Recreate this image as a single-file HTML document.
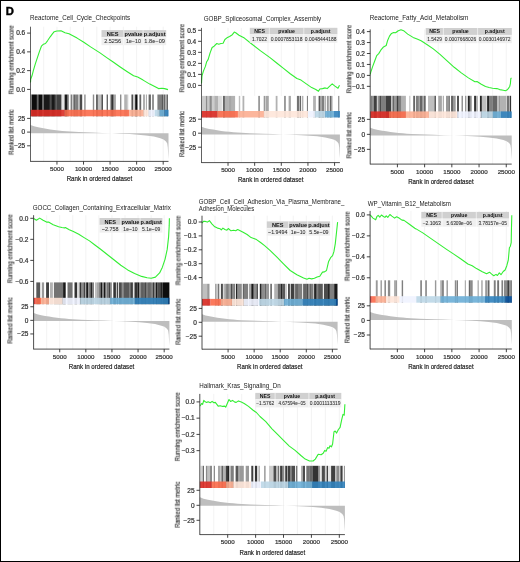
<!DOCTYPE html>
<html><head><meta charset="utf-8"><style>
html,body{margin:0;padding:0;background:#fff;}
svg{display:block;font-family:"Liberation Sans", sans-serif;}
text{will-change:transform;}
</style></head><body>
<svg width="520" height="562" viewBox="0 0 520 562">
<rect x="0" y="0" width="520" height="562" fill="#fff"/>
<g>
<text x="30.10" y="20.00" font-size="6.5" text-anchor="start" fill="#1a1a1a" textLength="100.00" lengthAdjust="spacingAndGlyphs">Reactome_Cell_Cycle_Checkpoints</text>
<line x1="43.68" y1="26.70" x2="43.68" y2="94.50" stroke="#ebebeb" stroke-width="0.6"/>
<line x1="43.68" y1="116.30" x2="43.68" y2="161.40" stroke="#ebebeb" stroke-width="0.6"/>
<line x1="56.96" y1="26.70" x2="56.96" y2="94.50" stroke="#ebebeb" stroke-width="0.6"/>
<line x1="56.96" y1="116.30" x2="56.96" y2="161.40" stroke="#ebebeb" stroke-width="0.6"/>
<line x1="70.24" y1="26.70" x2="70.24" y2="94.50" stroke="#ebebeb" stroke-width="0.6"/>
<line x1="70.24" y1="116.30" x2="70.24" y2="161.40" stroke="#ebebeb" stroke-width="0.6"/>
<line x1="83.52" y1="26.70" x2="83.52" y2="94.50" stroke="#ebebeb" stroke-width="0.6"/>
<line x1="83.52" y1="116.30" x2="83.52" y2="161.40" stroke="#ebebeb" stroke-width="0.6"/>
<line x1="96.79" y1="26.70" x2="96.79" y2="94.50" stroke="#ebebeb" stroke-width="0.6"/>
<line x1="96.79" y1="116.30" x2="96.79" y2="161.40" stroke="#ebebeb" stroke-width="0.6"/>
<line x1="110.07" y1="26.70" x2="110.07" y2="94.50" stroke="#ebebeb" stroke-width="0.6"/>
<line x1="110.07" y1="116.30" x2="110.07" y2="161.40" stroke="#ebebeb" stroke-width="0.6"/>
<line x1="123.35" y1="26.70" x2="123.35" y2="94.50" stroke="#ebebeb" stroke-width="0.6"/>
<line x1="123.35" y1="116.30" x2="123.35" y2="161.40" stroke="#ebebeb" stroke-width="0.6"/>
<line x1="136.63" y1="26.70" x2="136.63" y2="94.50" stroke="#ebebeb" stroke-width="0.6"/>
<line x1="136.63" y1="116.30" x2="136.63" y2="161.40" stroke="#ebebeb" stroke-width="0.6"/>
<line x1="149.91" y1="26.70" x2="149.91" y2="94.50" stroke="#ebebeb" stroke-width="0.6"/>
<line x1="149.91" y1="116.30" x2="149.91" y2="161.40" stroke="#ebebeb" stroke-width="0.6"/>
<line x1="163.19" y1="26.70" x2="163.19" y2="94.50" stroke="#ebebeb" stroke-width="0.6"/>
<line x1="163.19" y1="116.30" x2="163.19" y2="161.40" stroke="#ebebeb" stroke-width="0.6"/>
<line x1="27.10" y1="89.40" x2="30.40" y2="89.40" stroke="#222" stroke-width="0.85"/>
<text x="25.20" y="91.70" font-size="6.5" text-anchor="end" fill="#333" stroke="#333" stroke-width="0.22">0.0</text>
<line x1="27.10" y1="70.63" x2="30.40" y2="70.63" stroke="#222" stroke-width="0.85"/>
<text x="25.20" y="72.93" font-size="6.5" text-anchor="end" fill="#333" stroke="#333" stroke-width="0.22">0.2</text>
<line x1="27.10" y1="51.87" x2="30.40" y2="51.87" stroke="#222" stroke-width="0.85"/>
<text x="25.20" y="54.17" font-size="6.5" text-anchor="end" fill="#333" stroke="#333" stroke-width="0.22">0.4</text>
<line x1="27.10" y1="33.10" x2="30.40" y2="33.10" stroke="#222" stroke-width="0.85"/>
<text x="25.20" y="35.40" font-size="6.5" text-anchor="end" fill="#333" stroke="#333" stroke-width="0.22">0.6</text>
<polyline points="30.50,82.50 30.70,79.20 32.00,75.80 33.40,70.40 35.40,63.70 37.40,57.60 39.40,51.60 41.40,46.20 43.50,44.20 45.50,43.50 47.50,40.80 50.20,36.80 52.20,34.10 54.20,31.70 56.90,31.00 61.00,30.70 65.00,32.70 69.00,33.80 77.10,38.10 83.80,42.20 90.60,46.90 100.00,52.90 106.70,57.60 113.50,62.30 120.20,67.00 126.90,71.50 133.60,75.80 137.70,77.10 143.10,80.10 149.80,84.10 155.20,86.80 158.50,88.60 161.90,88.30 164.60,88.60 168.00,89.60" fill="none" stroke="#33ee33" stroke-width="1.1" stroke-linejoin="round"/>
<rect x="101.50" y="30.10" width="64.70" height="7.30" fill="#d0d0d0"/>
<rect x="101.50" y="37.40" width="64.70" height="7.80" fill="#efefef"/>
<line x1="123.80" y1="30.10" x2="123.80" y2="45.20" stroke="#fff" stroke-width="0.6"/>
<line x1="143.10" y1="30.10" x2="143.10" y2="45.20" stroke="#fff" stroke-width="0.6"/>
<line x1="101.50" y1="37.40" x2="166.20" y2="37.40" stroke="#fff" stroke-width="0.4"/>
<text x="112.65" y="35.80" font-size="5.7" text-anchor="middle" font-weight="bold" fill="#111">NES</text>
<text x="112.65" y="43.35" font-size="5.7" text-anchor="middle" fill="#2a2a2a" textLength="17.00" lengthAdjust="spacingAndGlyphs" stroke="#333" stroke-width="0.06">2.5256</text>
<text x="133.45" y="35.80" font-size="5.7" text-anchor="middle" font-weight="bold" fill="#111">pvalue</text>
<text x="133.45" y="43.35" font-size="5.7" text-anchor="middle" fill="#2a2a2a" textLength="15.00" lengthAdjust="spacingAndGlyphs" stroke="#333" stroke-width="0.06">1e−10</text>
<text x="154.65" y="35.80" font-size="5.7" text-anchor="middle" font-weight="bold" fill="#111">p.adjust</text>
<text x="154.65" y="43.35" font-size="5.7" text-anchor="middle" fill="#2a2a2a" textLength="20.60" lengthAdjust="spacingAndGlyphs" stroke="#333" stroke-width="0.06">1.8e−09</text>
<rect x="30.90" y="94.50" width="0.90" height="21.80" fill="#000" fill-opacity="0.5"/>
<rect x="31.80" y="94.50" width="5.10" height="21.80" fill="#000" fill-opacity="0.95"/>
<rect x="36.90" y="94.50" width="1.40" height="21.80" fill="#000" fill-opacity="0.6"/>
<rect x="38.30" y="94.50" width="3.70" height="21.80" fill="#000" fill-opacity="0.95"/>
<rect x="42.00" y="94.50" width="1.80" height="21.80" fill="#000" fill-opacity="0.6"/>
<rect x="43.80" y="94.50" width="6.10" height="21.80" fill="#000" fill-opacity="0.9"/>
<rect x="49.90" y="94.50" width="1.30" height="21.80" fill="#000" fill-opacity="0.7"/>
<rect x="51.20" y="94.50" width="3.70" height="21.80" fill="#000" fill-opacity="0.9"/>
<rect x="54.90" y="94.50" width="1.90" height="21.80" fill="#000" fill-opacity="0.7"/>
<rect x="56.80" y="94.50" width="4.60" height="21.80" fill="#000" fill-opacity="0.75"/>
<rect x="61.40" y="94.50" width="3.20" height="21.80" fill="#000" fill-opacity="0.1"/>
<rect x="64.60" y="94.50" width="2.80" height="21.80" fill="#000" fill-opacity="0.9"/>
<rect x="67.40" y="94.50" width="1.40" height="21.80" fill="#000" fill-opacity="0.5"/>
<rect x="70.60" y="94.50" width="1.40" height="21.80" fill="#000" fill-opacity="0.5"/>
<rect x="72.00" y="94.50" width="1.40" height="21.80" fill="#000" fill-opacity="0.2"/>
<rect x="73.40" y="94.50" width="1.80" height="21.80" fill="#000" fill-opacity="0.6"/>
<rect x="75.20" y="94.50" width="2.80" height="21.80" fill="#000" fill-opacity="0.5"/>
<rect x="78.00" y="94.50" width="1.80" height="21.80" fill="#000" fill-opacity="0.25"/>
<rect x="79.80" y="94.50" width="2.40" height="21.80" fill="#000" fill-opacity="0.7"/>
<rect x="84.00" y="94.50" width="1.80" height="21.80" fill="#000" fill-opacity="0.35"/>
<rect x="92.80" y="94.50" width="1.40" height="21.80" fill="#000" fill-opacity="0.45"/>
<rect x="96.00" y="94.50" width="1.90" height="21.80" fill="#000" fill-opacity="0.6"/>
<rect x="97.90" y="94.50" width="3.60" height="21.80" fill="#000" fill-opacity="0.25"/>
<rect x="101.50" y="94.50" width="1.40" height="21.80" fill="#000" fill-opacity="0.75"/>
<rect x="106.60" y="94.50" width="1.40" height="21.80" fill="#000" fill-opacity="0.6"/>
<rect x="109.90" y="94.50" width="1.30" height="21.80" fill="#000" fill-opacity="0.35"/>
<rect x="111.20" y="94.50" width="2.30" height="21.80" fill="#000" fill-opacity="0.8"/>
<rect x="113.50" y="94.50" width="2.40" height="21.80" fill="#000" fill-opacity="0.35"/>
<rect x="120.00" y="94.50" width="1.40" height="21.80" fill="#000" fill-opacity="0.45"/>
<rect x="124.20" y="94.50" width="1.80" height="21.80" fill="#000" fill-opacity="0.3"/>
<rect x="126.00" y="94.50" width="0.90" height="21.80" fill="#000" fill-opacity="0.3"/>
<rect x="126.90" y="94.50" width="1.40" height="21.80" fill="#000" fill-opacity="0.2"/>
<rect x="131.50" y="94.50" width="1.40" height="21.80" fill="#000" fill-opacity="0.75"/>
<rect x="132.90" y="94.50" width="2.30" height="21.80" fill="#000" fill-opacity="0.2"/>
<rect x="135.20" y="94.50" width="2.30" height="21.80" fill="#000" fill-opacity="0.95"/>
<rect x="139.40" y="94.50" width="1.80" height="21.80" fill="#000" fill-opacity="0.6"/>
<rect x="143.10" y="94.50" width="1.80" height="21.80" fill="#000" fill-opacity="0.35"/>
<rect x="145.90" y="94.50" width="0.90" height="21.80" fill="#000" fill-opacity="0.4"/>
<rect x="148.60" y="94.50" width="2.30" height="21.80" fill="#000" fill-opacity="0.6"/>
<rect x="152.30" y="94.50" width="1.40" height="21.80" fill="#000" fill-opacity="0.6"/>
<rect x="157.40" y="94.50" width="4.10" height="21.80" fill="#000" fill-opacity="0.5"/>
<rect x="161.50" y="94.50" width="1.40" height="21.80" fill="#000" fill-opacity="0.7"/>
<rect x="162.90" y="94.50" width="1.00" height="21.80" fill="#000" fill-opacity="0.4"/>
<rect x="163.90" y="94.50" width="1.30" height="21.80" fill="#000" fill-opacity="0.6"/>
<rect x="165.20" y="94.50" width="1.40" height="21.80" fill="#000" fill-opacity="0.3"/>
<rect x="166.60" y="94.50" width="1.40" height="21.80" fill="#000" fill-opacity="0.6"/>
<rect x="30.40" y="109.80" width="34.35" height="6.50" fill="#DE2D26" fill-opacity="0.9"/>
<rect x="64.70" y="109.80" width="64.45" height="6.50" fill="#FB6A4A" fill-opacity="0.9"/>
<rect x="129.10" y="109.80" width="14.55" height="6.50" fill="#FCAE91" fill-opacity="0.9"/>
<rect x="143.60" y="109.80" width="4.95" height="6.50" fill="#FEE5D9" fill-opacity="0.9"/>
<rect x="148.50" y="109.80" width="6.25" height="6.50" fill="#EFF3FF" fill-opacity="0.9"/>
<rect x="154.70" y="109.80" width="4.95" height="6.50" fill="#BDD7E7" fill-opacity="0.9"/>
<rect x="159.60" y="109.80" width="4.85" height="6.50" fill="#6BAED6" fill-opacity="0.9"/>
<rect x="164.40" y="109.80" width="4.15" height="6.50" fill="#3182BD" fill-opacity="0.9"/>
<line x1="27.10" y1="118.40" x2="30.40" y2="118.40" stroke="#222" stroke-width="0.85"/>
<text x="25.20" y="120.70" font-size="6.5" text-anchor="end" fill="#333" stroke="#333" stroke-width="0.22">25</text>
<line x1="27.10" y1="132.10" x2="30.40" y2="132.10" stroke="#222" stroke-width="0.85"/>
<text x="25.20" y="134.40" font-size="6.5" text-anchor="end" fill="#333" stroke="#333" stroke-width="0.22">0</text>
<line x1="27.10" y1="145.80" x2="30.40" y2="145.80" stroke="#222" stroke-width="0.85"/>
<text x="25.20" y="148.10" font-size="6.5" text-anchor="end" fill="#333" stroke="#333" stroke-width="0.22">−25</text>
<path d="M30.40,133.30 L30.40,124.90 L31.23,125.20 L33.99,126.30 L38.13,127.30 L42.14,128.10 L46.14,128.80 L50.15,129.50 L54.15,130.10 L58.30,130.50 L62.30,130.90 L66.31,131.30 L70.45,131.60 L78.73,132.00 L92.54,132.50 L102.21,132.90 L111.88,133.30 L120.16,133.70 L129.83,134.10 L138.12,134.70 L145.85,135.40 L153.86,136.60 L160.35,138.30 L163.53,139.50 L166.01,141.50 L167.26,143.50 L167.81,147.60 L168.22,155.30 L168.50,159.30 L168.50,133.30 Z" fill="#bebebe"/>
<line x1="30.40" y1="26.70" x2="30.40" y2="161.70" stroke="#222" stroke-width="0.8"/>
<line x1="30.40" y1="161.40" x2="168.50" y2="161.40" stroke="#222" stroke-width="0.8"/>
<line x1="56.96" y1="161.40" x2="56.96" y2="164.60" stroke="#222" stroke-width="0.85"/>
<text x="56.96" y="170.80" font-size="6.2" text-anchor="middle" fill="#333" stroke="#333" stroke-width="0.22">5000</text>
<line x1="83.52" y1="161.40" x2="83.52" y2="164.60" stroke="#222" stroke-width="0.85"/>
<text x="83.52" y="170.80" font-size="6.2" text-anchor="middle" fill="#333" stroke="#333" stroke-width="0.22">10000</text>
<line x1="110.07" y1="161.40" x2="110.07" y2="164.60" stroke="#222" stroke-width="0.85"/>
<text x="110.07" y="170.80" font-size="6.2" text-anchor="middle" fill="#333" stroke="#333" stroke-width="0.22">15000</text>
<line x1="136.63" y1="161.40" x2="136.63" y2="164.60" stroke="#222" stroke-width="0.85"/>
<text x="136.63" y="170.80" font-size="6.2" text-anchor="middle" fill="#333" stroke="#333" stroke-width="0.22">20000</text>
<line x1="163.19" y1="161.40" x2="163.19" y2="164.60" stroke="#222" stroke-width="0.85"/>
<text x="163.19" y="170.80" font-size="6.2" text-anchor="middle" fill="#333" stroke="#333" stroke-width="0.22">25000</text>
<text x="99.45" y="180.80" font-size="8.0" text-anchor="middle" fill="#111" textLength="65.50" lengthAdjust="spacingAndGlyphs" stroke="#333" stroke-width="0.22">Rank in ordered dataset</text>
<text transform="translate(11.60,59.80) rotate(-90)" font-size="8.0" fill="#1a1a1a" stroke="#222" stroke-width="0.15" text-anchor="middle" textLength="69.0" lengthAdjust="spacingAndGlyphs" y="2">Running enrichment score</text>
<text transform="translate(11.60,132.10) rotate(-90)" font-size="8.0" fill="#1a1a1a" stroke="#222" stroke-width="0.15" text-anchor="middle" textLength="45.4" lengthAdjust="spacingAndGlyphs" y="2">Ranked list metric</text>
</g>
<g>
<text x="203.70" y="20.60" font-size="6.5" text-anchor="start" fill="#1a1a1a" textLength="117.50" lengthAdjust="spacingAndGlyphs">GOBP_Spliceosomal_Complex_Assembly</text>
<line x1="214.72" y1="27.90" x2="214.72" y2="95.90" stroke="#ebebeb" stroke-width="0.6"/>
<line x1="214.72" y1="117.50" x2="214.72" y2="162.60" stroke="#ebebeb" stroke-width="0.6"/>
<line x1="228.03" y1="27.90" x2="228.03" y2="95.90" stroke="#ebebeb" stroke-width="0.6"/>
<line x1="228.03" y1="117.50" x2="228.03" y2="162.60" stroke="#ebebeb" stroke-width="0.6"/>
<line x1="241.35" y1="27.90" x2="241.35" y2="95.90" stroke="#ebebeb" stroke-width="0.6"/>
<line x1="241.35" y1="117.50" x2="241.35" y2="162.60" stroke="#ebebeb" stroke-width="0.6"/>
<line x1="254.67" y1="27.90" x2="254.67" y2="95.90" stroke="#ebebeb" stroke-width="0.6"/>
<line x1="254.67" y1="117.50" x2="254.67" y2="162.60" stroke="#ebebeb" stroke-width="0.6"/>
<line x1="267.99" y1="27.90" x2="267.99" y2="95.90" stroke="#ebebeb" stroke-width="0.6"/>
<line x1="267.99" y1="117.50" x2="267.99" y2="162.60" stroke="#ebebeb" stroke-width="0.6"/>
<line x1="281.30" y1="27.90" x2="281.30" y2="95.90" stroke="#ebebeb" stroke-width="0.6"/>
<line x1="281.30" y1="117.50" x2="281.30" y2="162.60" stroke="#ebebeb" stroke-width="0.6"/>
<line x1="294.62" y1="27.90" x2="294.62" y2="95.90" stroke="#ebebeb" stroke-width="0.6"/>
<line x1="294.62" y1="117.50" x2="294.62" y2="162.60" stroke="#ebebeb" stroke-width="0.6"/>
<line x1="307.94" y1="27.90" x2="307.94" y2="95.90" stroke="#ebebeb" stroke-width="0.6"/>
<line x1="307.94" y1="117.50" x2="307.94" y2="162.60" stroke="#ebebeb" stroke-width="0.6"/>
<line x1="321.26" y1="27.90" x2="321.26" y2="95.90" stroke="#ebebeb" stroke-width="0.6"/>
<line x1="321.26" y1="117.50" x2="321.26" y2="162.60" stroke="#ebebeb" stroke-width="0.6"/>
<line x1="334.57" y1="27.90" x2="334.57" y2="95.90" stroke="#ebebeb" stroke-width="0.6"/>
<line x1="334.57" y1="117.50" x2="334.57" y2="162.60" stroke="#ebebeb" stroke-width="0.6"/>
<line x1="198.10" y1="85.40" x2="201.40" y2="85.40" stroke="#222" stroke-width="0.85"/>
<text x="196.20" y="87.70" font-size="6.5" text-anchor="end" fill="#333" stroke="#333" stroke-width="0.22">0.0</text>
<line x1="198.10" y1="74.38" x2="201.40" y2="74.38" stroke="#222" stroke-width="0.85"/>
<text x="196.20" y="76.68" font-size="6.5" text-anchor="end" fill="#333" stroke="#333" stroke-width="0.22">0.1</text>
<line x1="198.10" y1="63.36" x2="201.40" y2="63.36" stroke="#222" stroke-width="0.85"/>
<text x="196.20" y="65.66" font-size="6.5" text-anchor="end" fill="#333" stroke="#333" stroke-width="0.22">0.2</text>
<line x1="198.10" y1="52.34" x2="201.40" y2="52.34" stroke="#222" stroke-width="0.85"/>
<text x="196.20" y="54.64" font-size="6.5" text-anchor="end" fill="#333" stroke="#333" stroke-width="0.22">0.3</text>
<line x1="198.10" y1="41.32" x2="201.40" y2="41.32" stroke="#222" stroke-width="0.85"/>
<text x="196.20" y="43.62" font-size="6.5" text-anchor="end" fill="#333" stroke="#333" stroke-width="0.22">0.4</text>
<line x1="198.10" y1="30.30" x2="201.40" y2="30.30" stroke="#222" stroke-width="0.85"/>
<text x="196.20" y="32.60" font-size="6.5" text-anchor="end" fill="#333" stroke="#333" stroke-width="0.22">0.5</text>
<polyline points="201.50,83.50 201.60,81.20 202.00,75.80 203.40,71.10 205.40,66.40 206.70,61.70 208.10,59.60 210.10,52.90 212.10,47.50 214.10,46.20 216.80,43.50 218.80,44.20 220.90,43.50 223.10,43.20 224.90,39.50 226.90,37.80 229.60,36.50 232.30,34.70 234.30,32.10 235.70,32.70 239.00,35.20 244.40,38.10 251.10,43.50 260.60,50.90 270.00,57.60 276.70,63.00 283.50,68.40 290.20,73.80 296.90,78.50 301.00,80.10 306.30,83.90 311.70,87.60 315.80,89.50 318.50,91.30 319.80,89.00 322.50,88.60 325.20,87.90 327.20,88.60 329.20,86.60 332.20,83.90 334.60,85.90 338.00,88.20 339.50,85.20" fill="none" stroke="#33ee33" stroke-width="1.1" stroke-linejoin="round"/>
<rect x="249.80" y="27.80" width="87.60" height="6.80" fill="#d0d0d0"/>
<rect x="249.80" y="34.60" width="87.60" height="8.20" fill="#efefef"/>
<line x1="269.30" y1="27.80" x2="269.30" y2="42.80" stroke="#fff" stroke-width="0.6"/>
<line x1="303.80" y1="27.80" x2="303.80" y2="42.80" stroke="#fff" stroke-width="0.6"/>
<line x1="249.80" y1="34.60" x2="337.40" y2="34.60" stroke="#fff" stroke-width="0.4"/>
<text x="259.55" y="33.07" font-size="5.2" text-anchor="middle" font-weight="bold" fill="#111">NES</text>
<text x="259.55" y="40.54" font-size="5.1" text-anchor="middle" fill="#2a2a2a" textLength="15.20" lengthAdjust="spacingAndGlyphs" stroke="#333" stroke-width="0.06">1.7022</text>
<text x="286.55" y="33.07" font-size="5.2" text-anchor="middle" font-weight="bold" fill="#111">pvalue</text>
<text x="286.55" y="40.54" font-size="5.1" text-anchor="middle" fill="#2a2a2a" textLength="31.80" lengthAdjust="spacingAndGlyphs" stroke="#333" stroke-width="0.06">0.0007853118</text>
<text x="320.60" y="33.07" font-size="5.2" text-anchor="middle" font-weight="bold" fill="#111">p.adjust</text>
<text x="320.60" y="40.54" font-size="5.1" text-anchor="middle" fill="#2a2a2a" textLength="31.60" lengthAdjust="spacingAndGlyphs" stroke="#333" stroke-width="0.06">0.0048444188</text>
<rect x="202.00" y="95.90" width="3.90" height="21.60" fill="#000" fill-opacity="0.2"/>
<rect x="205.90" y="95.90" width="1.30" height="21.60" fill="#000" fill-opacity="0.45"/>
<rect x="207.20" y="95.90" width="2.30" height="21.60" fill="#000" fill-opacity="0.22"/>
<rect x="209.50" y="95.90" width="2.30" height="21.60" fill="#000" fill-opacity="0.45"/>
<rect x="211.80" y="95.90" width="2.60" height="21.60" fill="#000" fill-opacity="0.2"/>
<rect x="214.40" y="95.90" width="3.60" height="21.60" fill="#000" fill-opacity="0.3"/>
<rect x="218.00" y="95.90" width="3.90" height="21.60" fill="#000" fill-opacity="0.15"/>
<rect x="222.90" y="95.90" width="2.00" height="21.60" fill="#000" fill-opacity="0.6"/>
<rect x="224.90" y="95.90" width="3.60" height="21.60" fill="#000" fill-opacity="0.3"/>
<rect x="228.50" y="95.90" width="3.20" height="21.60" fill="#000" fill-opacity="0.35"/>
<rect x="231.70" y="95.90" width="3.40" height="21.60" fill="#000" fill-opacity="0.3"/>
<rect x="238.80" y="95.90" width="1.40" height="21.60" fill="#000" fill-opacity="0.25"/>
<rect x="242.50" y="95.90" width="1.80" height="21.60" fill="#000" fill-opacity="0.3"/>
<rect x="258.20" y="95.90" width="1.80" height="21.60" fill="#000" fill-opacity="0.4"/>
<rect x="263.70" y="95.90" width="1.40" height="21.60" fill="#000" fill-opacity="0.4"/>
<rect x="265.50" y="95.90" width="3.30" height="21.60" fill="#000" fill-opacity="0.35"/>
<rect x="275.70" y="95.90" width="1.80" height="21.60" fill="#000" fill-opacity="0.3"/>
<rect x="284.00" y="95.90" width="1.90" height="21.60" fill="#000" fill-opacity="0.4"/>
<rect x="288.60" y="95.90" width="2.30" height="21.60" fill="#000" fill-opacity="0.35"/>
<rect x="296.90" y="95.90" width="2.30" height="21.60" fill="#000" fill-opacity="0.55"/>
<rect x="299.70" y="95.90" width="1.40" height="21.60" fill="#000" fill-opacity="0.6"/>
<rect x="302.00" y="95.90" width="1.40" height="21.60" fill="#000" fill-opacity="0.3"/>
<rect x="306.90" y="95.90" width="1.10" height="21.60" fill="#000" fill-opacity="0.5"/>
<rect x="313.10" y="95.90" width="2.80" height="21.60" fill="#000" fill-opacity="0.3"/>
<rect x="318.60" y="95.90" width="1.60" height="21.60" fill="#000" fill-opacity="0.65"/>
<rect x="320.20" y="95.90" width="1.70" height="21.60" fill="#000" fill-opacity="0.35"/>
<rect x="321.90" y="95.90" width="2.30" height="21.60" fill="#000" fill-opacity="0.5"/>
<rect x="324.60" y="95.90" width="1.40" height="21.60" fill="#000" fill-opacity="0.3"/>
<rect x="326.90" y="95.90" width="1.90" height="21.60" fill="#000" fill-opacity="0.4"/>
<rect x="329.70" y="95.90" width="1.80" height="21.60" fill="#000" fill-opacity="0.6"/>
<rect x="331.50" y="95.90" width="1.40" height="21.60" fill="#000" fill-opacity="0.2"/>
<rect x="338.00" y="95.90" width="1.40" height="21.60" fill="#000" fill-opacity="0.4"/>
<rect x="201.40" y="111.00" width="16.15" height="6.50" fill="#DE2D26" fill-opacity="0.9"/>
<rect x="217.50" y="111.00" width="20.45" height="6.50" fill="#FB6A4A" fill-opacity="0.9"/>
<rect x="237.90" y="111.00" width="26.05" height="6.50" fill="#FCAE91" fill-opacity="0.9"/>
<rect x="263.90" y="111.00" width="44.15" height="6.50" fill="#FEE5D9" fill-opacity="0.9"/>
<rect x="308.00" y="111.00" width="6.95" height="6.50" fill="#EFF3FF" fill-opacity="0.9"/>
<rect x="314.90" y="111.00" width="10.25" height="6.50" fill="#BDD7E7" fill-opacity="0.9"/>
<rect x="325.10" y="111.00" width="8.85" height="6.50" fill="#6BAED6" fill-opacity="0.9"/>
<rect x="333.90" y="111.00" width="6.05" height="6.50" fill="#3182BD" fill-opacity="0.9"/>
<line x1="198.10" y1="119.20" x2="201.40" y2="119.20" stroke="#222" stroke-width="0.85"/>
<text x="196.20" y="121.50" font-size="6.5" text-anchor="end" fill="#333" stroke="#333" stroke-width="0.22">25</text>
<line x1="198.10" y1="133.20" x2="201.40" y2="133.20" stroke="#222" stroke-width="0.85"/>
<text x="196.20" y="135.50" font-size="6.5" text-anchor="end" fill="#333" stroke="#333" stroke-width="0.22">0</text>
<line x1="198.10" y1="147.20" x2="201.40" y2="147.20" stroke="#222" stroke-width="0.85"/>
<text x="196.20" y="149.50" font-size="6.5" text-anchor="end" fill="#333" stroke="#333" stroke-width="0.22">−25</text>
<path d="M201.40,134.40 L201.40,126.67 L202.23,126.95 L205.00,127.96 L209.16,128.88 L213.17,129.62 L217.19,130.26 L221.21,130.90 L225.22,131.46 L229.38,131.82 L233.39,132.19 L237.41,132.56 L241.56,132.84 L249.88,133.20 L263.73,133.66 L273.42,134.03 L283.12,134.40 L291.43,134.77 L301.12,135.14 L309.43,135.69 L317.19,136.33 L325.22,137.44 L331.73,139.00 L334.91,140.10 L337.41,141.94 L338.65,143.78 L339.21,147.56 L339.62,154.64 L339.90,158.32 L339.90,134.40 Z" fill="#bebebe"/>
<line x1="201.40" y1="27.90" x2="201.40" y2="162.90" stroke="#222" stroke-width="0.8"/>
<line x1="201.40" y1="162.60" x2="339.90" y2="162.60" stroke="#222" stroke-width="0.8"/>
<line x1="228.03" y1="162.60" x2="228.03" y2="165.80" stroke="#222" stroke-width="0.85"/>
<text x="228.03" y="172.30" font-size="6.2" text-anchor="middle" fill="#333" stroke="#333" stroke-width="0.22">5000</text>
<line x1="254.67" y1="162.60" x2="254.67" y2="165.80" stroke="#222" stroke-width="0.85"/>
<text x="254.67" y="172.30" font-size="6.2" text-anchor="middle" fill="#333" stroke="#333" stroke-width="0.22">10000</text>
<line x1="281.30" y1="162.60" x2="281.30" y2="165.80" stroke="#222" stroke-width="0.85"/>
<text x="281.30" y="172.30" font-size="6.2" text-anchor="middle" fill="#333" stroke="#333" stroke-width="0.22">15000</text>
<line x1="307.94" y1="162.60" x2="307.94" y2="165.80" stroke="#222" stroke-width="0.85"/>
<text x="307.94" y="172.30" font-size="6.2" text-anchor="middle" fill="#333" stroke="#333" stroke-width="0.22">20000</text>
<line x1="334.57" y1="162.60" x2="334.57" y2="165.80" stroke="#222" stroke-width="0.85"/>
<text x="334.57" y="172.30" font-size="6.2" text-anchor="middle" fill="#333" stroke="#333" stroke-width="0.22">25000</text>
<text x="270.65" y="182.40" font-size="8.0" text-anchor="middle" fill="#111" textLength="65.50" lengthAdjust="spacingAndGlyphs" stroke="#333" stroke-width="0.22">Rank in ordered dataset</text>
<text transform="translate(182.30,58.20) rotate(-90)" font-size="8.0" fill="#1a1a1a" stroke="#222" stroke-width="0.15" text-anchor="middle" textLength="68.3" lengthAdjust="spacingAndGlyphs" y="2">Running enrichment score</text>
<text transform="translate(182.30,134.00) rotate(-90)" font-size="8.0" fill="#1a1a1a" stroke="#222" stroke-width="0.15" text-anchor="middle" textLength="46.0" lengthAdjust="spacingAndGlyphs" y="2">Ranked list metric</text>
</g>
<g>
<text x="369.70" y="20.00" font-size="6.5" text-anchor="start" fill="#1a1a1a" textLength="98.70" lengthAdjust="spacingAndGlyphs">Reactome_Fatty_Acid_Metabolism</text>
<line x1="383.81" y1="29.40" x2="383.81" y2="95.80" stroke="#ebebeb" stroke-width="0.6"/>
<line x1="383.81" y1="117.90" x2="383.81" y2="164.10" stroke="#ebebeb" stroke-width="0.6"/>
<line x1="397.41" y1="29.40" x2="397.41" y2="95.80" stroke="#ebebeb" stroke-width="0.6"/>
<line x1="397.41" y1="117.90" x2="397.41" y2="164.10" stroke="#ebebeb" stroke-width="0.6"/>
<line x1="411.02" y1="29.40" x2="411.02" y2="95.80" stroke="#ebebeb" stroke-width="0.6"/>
<line x1="411.02" y1="117.90" x2="411.02" y2="164.10" stroke="#ebebeb" stroke-width="0.6"/>
<line x1="424.62" y1="29.40" x2="424.62" y2="95.80" stroke="#ebebeb" stroke-width="0.6"/>
<line x1="424.62" y1="117.90" x2="424.62" y2="164.10" stroke="#ebebeb" stroke-width="0.6"/>
<line x1="438.23" y1="29.40" x2="438.23" y2="95.80" stroke="#ebebeb" stroke-width="0.6"/>
<line x1="438.23" y1="117.90" x2="438.23" y2="164.10" stroke="#ebebeb" stroke-width="0.6"/>
<line x1="451.83" y1="29.40" x2="451.83" y2="95.80" stroke="#ebebeb" stroke-width="0.6"/>
<line x1="451.83" y1="117.90" x2="451.83" y2="164.10" stroke="#ebebeb" stroke-width="0.6"/>
<line x1="465.44" y1="29.40" x2="465.44" y2="95.80" stroke="#ebebeb" stroke-width="0.6"/>
<line x1="465.44" y1="117.90" x2="465.44" y2="164.10" stroke="#ebebeb" stroke-width="0.6"/>
<line x1="479.05" y1="29.40" x2="479.05" y2="95.80" stroke="#ebebeb" stroke-width="0.6"/>
<line x1="479.05" y1="117.90" x2="479.05" y2="164.10" stroke="#ebebeb" stroke-width="0.6"/>
<line x1="492.65" y1="29.40" x2="492.65" y2="95.80" stroke="#ebebeb" stroke-width="0.6"/>
<line x1="492.65" y1="117.90" x2="492.65" y2="164.10" stroke="#ebebeb" stroke-width="0.6"/>
<line x1="506.26" y1="29.40" x2="506.26" y2="95.80" stroke="#ebebeb" stroke-width="0.6"/>
<line x1="506.26" y1="117.90" x2="506.26" y2="164.10" stroke="#ebebeb" stroke-width="0.6"/>
<line x1="366.90" y1="86.35" x2="370.20" y2="86.35" stroke="#222" stroke-width="0.85"/>
<text x="365.00" y="88.65" font-size="6.5" text-anchor="end" fill="#333" stroke="#333" stroke-width="0.22">−0.1</text>
<line x1="366.90" y1="75.40" x2="370.20" y2="75.40" stroke="#222" stroke-width="0.85"/>
<text x="365.00" y="77.70" font-size="6.5" text-anchor="end" fill="#333" stroke="#333" stroke-width="0.22">0.0</text>
<line x1="366.90" y1="64.45" x2="370.20" y2="64.45" stroke="#222" stroke-width="0.85"/>
<text x="365.00" y="66.75" font-size="6.5" text-anchor="end" fill="#333" stroke="#333" stroke-width="0.22">0.1</text>
<line x1="366.90" y1="53.50" x2="370.20" y2="53.50" stroke="#222" stroke-width="0.85"/>
<text x="365.00" y="55.80" font-size="6.5" text-anchor="end" fill="#333" stroke="#333" stroke-width="0.22">0.2</text>
<line x1="366.90" y1="42.55" x2="370.20" y2="42.55" stroke="#222" stroke-width="0.85"/>
<text x="365.00" y="44.85" font-size="6.5" text-anchor="end" fill="#333" stroke="#333" stroke-width="0.22">0.3</text>
<line x1="366.90" y1="31.60" x2="370.20" y2="31.60" stroke="#222" stroke-width="0.85"/>
<text x="365.00" y="33.90" font-size="6.5" text-anchor="end" fill="#333" stroke="#333" stroke-width="0.22">0.4</text>
<polyline points="370.30,74.50 370.70,72.40 372.70,66.40 374.70,61.00 376.70,55.60 378.70,53.60 380.80,50.20 383.50,46.90 386.20,45.50 387.50,40.80 389.50,36.10 391.50,33.40 393.60,32.50 395.60,32.70 398.30,30.70 401.00,29.80 403.60,30.70 407.70,34.10 413.10,37.40 417.10,39.10 421.10,40.80 426.50,44.20 433.30,48.90 440.00,54.40 447.10,60.90 454.20,67.30 461.30,72.90 468.40,77.90 474.90,81.80 477.00,81.50 481.30,84.30 485.50,86.50 489.10,87.50 492.60,88.30 496.90,88.60 499.70,89.60 503.30,90.30 505.40,90.70 506.90,90.00 508.30,88.60 509.70,86.50 510.40,83.60 510.80,78.60 511.50,77.90" fill="none" stroke="#33ee33" stroke-width="1.1" stroke-linejoin="round"/>
<rect x="425.70" y="28.00" width="86.10" height="7.20" fill="#d0d0d0"/>
<rect x="425.70" y="35.20" width="86.10" height="8.00" fill="#efefef"/>
<line x1="443.40" y1="28.00" x2="443.40" y2="43.20" stroke="#fff" stroke-width="0.6"/>
<line x1="477.60" y1="28.00" x2="477.60" y2="43.20" stroke="#fff" stroke-width="0.6"/>
<line x1="425.70" y1="35.20" x2="511.80" y2="35.20" stroke="#fff" stroke-width="0.4"/>
<text x="434.55" y="33.47" font-size="5.2" text-anchor="middle" font-weight="bold" fill="#111">NES</text>
<text x="434.55" y="41.04" font-size="5.1" text-anchor="middle" fill="#2a2a2a" textLength="14.80" lengthAdjust="spacingAndGlyphs" stroke="#333" stroke-width="0.06">1.5429</text>
<text x="460.50" y="33.47" font-size="5.2" text-anchor="middle" font-weight="bold" fill="#111">pvalue</text>
<text x="460.50" y="41.04" font-size="5.1" text-anchor="middle" fill="#2a2a2a" textLength="31.40" lengthAdjust="spacingAndGlyphs" stroke="#333" stroke-width="0.06">0.0007668026</text>
<text x="494.70" y="33.47" font-size="5.2" text-anchor="middle" font-weight="bold" fill="#111">p.adjust</text>
<text x="494.70" y="41.04" font-size="5.1" text-anchor="middle" fill="#2a2a2a" textLength="31.80" lengthAdjust="spacingAndGlyphs" stroke="#333" stroke-width="0.06">0.0030146972</text>
<rect x="370.80" y="95.80" width="1.40" height="22.10" fill="#000" fill-opacity="0.5"/>
<rect x="372.20" y="95.80" width="1.80" height="22.10" fill="#000" fill-opacity="0.45"/>
<rect x="374.00" y="95.80" width="2.80" height="22.10" fill="#000" fill-opacity="0.75"/>
<rect x="376.80" y="95.80" width="1.40" height="22.10" fill="#000" fill-opacity="0.2"/>
<rect x="378.20" y="95.80" width="1.80" height="22.10" fill="#000" fill-opacity="0.5"/>
<rect x="380.00" y="95.80" width="1.40" height="22.10" fill="#000" fill-opacity="0.7"/>
<rect x="381.40" y="95.80" width="4.60" height="22.10" fill="#000" fill-opacity="0.5"/>
<rect x="386.00" y="95.80" width="5.10" height="22.10" fill="#000" fill-opacity="0.75"/>
<rect x="391.10" y="95.80" width="1.40" height="22.10" fill="#000" fill-opacity="0.2"/>
<rect x="392.50" y="95.80" width="1.80" height="22.10" fill="#000" fill-opacity="0.6"/>
<rect x="394.30" y="95.80" width="2.30" height="22.10" fill="#000" fill-opacity="0.4"/>
<rect x="396.60" y="95.80" width="1.90" height="22.10" fill="#000" fill-opacity="0.75"/>
<rect x="398.50" y="95.80" width="2.70" height="22.10" fill="#000" fill-opacity="0.5"/>
<rect x="401.20" y="95.80" width="4.70" height="22.10" fill="#000" fill-opacity="0.3"/>
<rect x="409.10" y="95.80" width="1.40" height="22.10" fill="#000" fill-opacity="0.2"/>
<rect x="413.20" y="95.80" width="1.90" height="22.10" fill="#000" fill-opacity="0.6"/>
<rect x="416.00" y="95.80" width="2.80" height="22.10" fill="#000" fill-opacity="0.5"/>
<rect x="418.80" y="95.80" width="0.90" height="22.10" fill="#000" fill-opacity="0.3"/>
<rect x="419.70" y="95.80" width="2.80" height="22.10" fill="#000" fill-opacity="0.6"/>
<rect x="422.50" y="95.80" width="1.30" height="22.10" fill="#000" fill-opacity="0.3"/>
<rect x="423.80" y="95.80" width="1.90" height="22.10" fill="#000" fill-opacity="0.6"/>
<rect x="428.00" y="95.80" width="6.50" height="22.10" fill="#000" fill-opacity="0.25"/>
<rect x="434.50" y="95.80" width="1.40" height="22.10" fill="#000" fill-opacity="0.7"/>
<rect x="438.20" y="95.80" width="3.70" height="22.10" fill="#000" fill-opacity="0.35"/>
<rect x="442.80" y="95.80" width="0.90" height="22.10" fill="#000" fill-opacity="0.45"/>
<rect x="446.00" y="95.80" width="2.80" height="22.10" fill="#000" fill-opacity="0.4"/>
<rect x="448.80" y="95.80" width="0.90" height="22.10" fill="#000" fill-opacity="0.7"/>
<rect x="451.10" y="95.80" width="1.80" height="22.10" fill="#000" fill-opacity="0.65"/>
<rect x="452.90" y="95.80" width="2.80" height="22.10" fill="#000" fill-opacity="0.4"/>
<rect x="457.10" y="95.80" width="1.80" height="22.10" fill="#000" fill-opacity="0.75"/>
<rect x="461.70" y="95.80" width="0.90" height="22.10" fill="#000" fill-opacity="0.7"/>
<rect x="465.00" y="95.80" width="1.40" height="22.10" fill="#000" fill-opacity="0.4"/>
<rect x="467.80" y="95.80" width="2.00" height="22.10" fill="#000" fill-opacity="0.85"/>
<rect x="469.80" y="95.80" width="1.90" height="22.10" fill="#000" fill-opacity="0.45"/>
<rect x="474.10" y="95.80" width="1.90" height="22.10" fill="#000" fill-opacity="0.8"/>
<rect x="476.00" y="95.80" width="1.90" height="22.10" fill="#000" fill-opacity="0.3"/>
<rect x="479.90" y="95.80" width="1.90" height="22.10" fill="#000" fill-opacity="0.85"/>
<rect x="481.80" y="95.80" width="4.80" height="22.10" fill="#000" fill-opacity="0.25"/>
<rect x="487.10" y="95.80" width="1.90" height="22.10" fill="#000" fill-opacity="0.85"/>
<rect x="489.00" y="95.80" width="3.80" height="22.10" fill="#000" fill-opacity="0.5"/>
<rect x="492.80" y="95.80" width="4.40" height="22.10" fill="#000" fill-opacity="0.6"/>
<rect x="497.20" y="95.80" width="1.40" height="22.10" fill="#000" fill-opacity="0.2"/>
<rect x="498.60" y="95.80" width="1.50" height="22.10" fill="#000" fill-opacity="0.4"/>
<rect x="500.10" y="95.80" width="6.20" height="22.10" fill="#000" fill-opacity="0.3"/>
<rect x="506.80" y="95.80" width="2.40" height="22.10" fill="#000" fill-opacity="0.55"/>
<rect x="509.70" y="95.80" width="1.40" height="22.10" fill="#000" fill-opacity="0.8"/>
<rect x="370.20" y="111.40" width="18.85" height="6.50" fill="#DE2D26" fill-opacity="0.9"/>
<rect x="389.00" y="111.40" width="16.95" height="6.50" fill="#FB6A4A" fill-opacity="0.9"/>
<rect x="405.90" y="111.40" width="23.05" height="6.50" fill="#FCAE91" fill-opacity="0.9"/>
<rect x="428.90" y="111.40" width="28.25" height="6.50" fill="#FEE5D9" fill-opacity="0.9"/>
<rect x="457.10" y="111.40" width="24.25" height="6.50" fill="#EFF3FF" fill-opacity="0.9"/>
<rect x="481.30" y="111.40" width="11.55" height="6.50" fill="#BDD7E7" fill-opacity="0.9"/>
<rect x="492.80" y="111.40" width="8.25" height="6.50" fill="#6BAED6" fill-opacity="0.9"/>
<rect x="501.00" y="111.40" width="10.75" height="6.50" fill="#3182BD" fill-opacity="0.9"/>
<line x1="366.90" y1="119.35" x2="370.20" y2="119.35" stroke="#222" stroke-width="0.85"/>
<text x="365.00" y="121.65" font-size="6.5" text-anchor="end" fill="#333" stroke="#333" stroke-width="0.22">25</text>
<line x1="366.90" y1="134.35" x2="370.20" y2="134.35" stroke="#222" stroke-width="0.85"/>
<text x="365.00" y="136.65" font-size="6.5" text-anchor="end" fill="#333" stroke="#333" stroke-width="0.22">0</text>
<line x1="366.90" y1="149.35" x2="370.20" y2="149.35" stroke="#222" stroke-width="0.85"/>
<text x="365.00" y="151.65" font-size="6.5" text-anchor="end" fill="#333" stroke="#333" stroke-width="0.22">−25</text>
<path d="M370.20,135.50 L370.20,127.77 L371.05,128.05 L373.88,129.06 L378.12,129.98 L382.23,130.72 L386.33,131.36 L390.43,132.00 L394.54,132.56 L398.78,132.92 L402.89,133.29 L406.99,133.66 L411.24,133.94 L419.72,134.30 L433.88,134.76 L443.78,135.13 L453.69,135.50 L462.18,135.87 L472.08,136.24 L480.57,136.79 L488.49,137.43 L496.70,138.54 L503.35,140.10 L506.61,141.20 L509.15,143.04 L510.43,144.88 L510.99,148.66 L511.42,155.74 L511.70,159.42 L511.70,135.50 Z" fill="#bebebe"/>
<line x1="370.20" y1="29.40" x2="370.20" y2="164.40" stroke="#222" stroke-width="0.8"/>
<line x1="370.20" y1="164.10" x2="511.70" y2="164.10" stroke="#222" stroke-width="0.8"/>
<line x1="397.41" y1="164.10" x2="397.41" y2="167.30" stroke="#222" stroke-width="0.85"/>
<text x="397.41" y="173.60" font-size="6.2" text-anchor="middle" fill="#333" stroke="#333" stroke-width="0.22">5000</text>
<line x1="424.62" y1="164.10" x2="424.62" y2="167.30" stroke="#222" stroke-width="0.85"/>
<text x="424.62" y="173.60" font-size="6.2" text-anchor="middle" fill="#333" stroke="#333" stroke-width="0.22">10000</text>
<line x1="451.83" y1="164.10" x2="451.83" y2="167.30" stroke="#222" stroke-width="0.85"/>
<text x="451.83" y="173.60" font-size="6.2" text-anchor="middle" fill="#333" stroke="#333" stroke-width="0.22">15000</text>
<line x1="479.05" y1="164.10" x2="479.05" y2="167.30" stroke="#222" stroke-width="0.85"/>
<text x="479.05" y="173.60" font-size="6.2" text-anchor="middle" fill="#333" stroke="#333" stroke-width="0.22">20000</text>
<line x1="506.26" y1="164.10" x2="506.26" y2="167.30" stroke="#222" stroke-width="0.85"/>
<text x="506.26" y="173.60" font-size="6.2" text-anchor="middle" fill="#333" stroke="#333" stroke-width="0.22">25000</text>
<text x="440.95" y="183.50" font-size="8.0" text-anchor="middle" fill="#111" textLength="65.50" lengthAdjust="spacingAndGlyphs" stroke="#333" stroke-width="0.22">Rank in ordered dataset</text>
<text transform="translate(349.40,59.10) rotate(-90)" font-size="8.0" fill="#1a1a1a" stroke="#222" stroke-width="0.15" text-anchor="middle" textLength="68.6" lengthAdjust="spacingAndGlyphs" y="2">Running enrichment score</text>
<text transform="translate(349.40,135.30) rotate(-90)" font-size="8.0" fill="#1a1a1a" stroke="#222" stroke-width="0.15" text-anchor="middle" textLength="46.3" lengthAdjust="spacingAndGlyphs" y="2">Ranked list metric</text>
</g>
<g>
<text x="32.70" y="210.10" font-size="6.5" text-anchor="start" fill="#1a1a1a" textLength="138.10" lengthAdjust="spacingAndGlyphs">GOCC_Collagen_Containing_Extracellular_Matrix</text>
<line x1="46.66" y1="215.20" x2="46.66" y2="282.40" stroke="#ebebeb" stroke-width="0.6"/>
<line x1="46.66" y1="304.20" x2="46.66" y2="349.10" stroke="#ebebeb" stroke-width="0.6"/>
<line x1="59.72" y1="215.20" x2="59.72" y2="282.40" stroke="#ebebeb" stroke-width="0.6"/>
<line x1="59.72" y1="304.20" x2="59.72" y2="349.10" stroke="#ebebeb" stroke-width="0.6"/>
<line x1="72.77" y1="215.20" x2="72.77" y2="282.40" stroke="#ebebeb" stroke-width="0.6"/>
<line x1="72.77" y1="304.20" x2="72.77" y2="349.10" stroke="#ebebeb" stroke-width="0.6"/>
<line x1="85.83" y1="215.20" x2="85.83" y2="282.40" stroke="#ebebeb" stroke-width="0.6"/>
<line x1="85.83" y1="304.20" x2="85.83" y2="349.10" stroke="#ebebeb" stroke-width="0.6"/>
<line x1="98.89" y1="215.20" x2="98.89" y2="282.40" stroke="#ebebeb" stroke-width="0.6"/>
<line x1="98.89" y1="304.20" x2="98.89" y2="349.10" stroke="#ebebeb" stroke-width="0.6"/>
<line x1="111.95" y1="215.20" x2="111.95" y2="282.40" stroke="#ebebeb" stroke-width="0.6"/>
<line x1="111.95" y1="304.20" x2="111.95" y2="349.10" stroke="#ebebeb" stroke-width="0.6"/>
<line x1="125.00" y1="215.20" x2="125.00" y2="282.40" stroke="#ebebeb" stroke-width="0.6"/>
<line x1="125.00" y1="304.20" x2="125.00" y2="349.10" stroke="#ebebeb" stroke-width="0.6"/>
<line x1="138.06" y1="215.20" x2="138.06" y2="282.40" stroke="#ebebeb" stroke-width="0.6"/>
<line x1="138.06" y1="304.20" x2="138.06" y2="349.10" stroke="#ebebeb" stroke-width="0.6"/>
<line x1="151.12" y1="215.20" x2="151.12" y2="282.40" stroke="#ebebeb" stroke-width="0.6"/>
<line x1="151.12" y1="304.20" x2="151.12" y2="349.10" stroke="#ebebeb" stroke-width="0.6"/>
<line x1="164.18" y1="215.20" x2="164.18" y2="282.40" stroke="#ebebeb" stroke-width="0.6"/>
<line x1="164.18" y1="304.20" x2="164.18" y2="349.10" stroke="#ebebeb" stroke-width="0.6"/>
<line x1="30.30" y1="218.30" x2="33.60" y2="218.30" stroke="#222" stroke-width="0.85"/>
<text x="28.40" y="220.60" font-size="6.5" text-anchor="end" fill="#333" stroke="#333" stroke-width="0.22">0.0</text>
<line x1="30.30" y1="239.34" x2="33.60" y2="239.34" stroke="#222" stroke-width="0.85"/>
<text x="28.40" y="241.64" font-size="6.5" text-anchor="end" fill="#333" stroke="#333" stroke-width="0.22">−0.2</text>
<line x1="30.30" y1="260.38" x2="33.60" y2="260.38" stroke="#222" stroke-width="0.85"/>
<text x="28.40" y="262.68" font-size="6.5" text-anchor="end" fill="#333" stroke="#333" stroke-width="0.22">−0.4</text>
<line x1="30.30" y1="281.42" x2="33.60" y2="281.42" stroke="#222" stroke-width="0.85"/>
<text x="28.40" y="283.72" font-size="6.5" text-anchor="end" fill="#333" stroke="#333" stroke-width="0.22">−0.6</text>
<polyline points="33.70,218.50 36.40,220.30 39.70,218.10 43.10,220.30 46.50,222.10 48.50,222.10 53.20,224.80 58.60,226.80 61.90,227.50 64.60,227.90 65.30,227.50 69.30,229.80 73.40,231.50 78.80,234.20 84.10,237.60 89.50,240.90 94.90,245.00 100.30,249.00 106.90,254.20 113.90,259.80 120.80,265.30 127.70,269.90 134.60,273.60 141.60,276.40 147.10,277.80 151.20,278.20 155.40,277.10 159.60,272.90 162.30,267.40 165.10,259.10 167.20,249.40 168.60,236.90 169.20,225.90 169.40,218.30" fill="none" stroke="#33ee33" stroke-width="1.1" stroke-linejoin="round"/>
<rect x="99.50" y="218.00" width="62.90" height="7.00" fill="#d0d0d0"/>
<rect x="99.50" y="225.00" width="62.90" height="7.60" fill="#efefef"/>
<line x1="120.80" y1="218.00" x2="120.80" y2="232.60" stroke="#fff" stroke-width="0.6"/>
<line x1="140.10" y1="218.00" x2="140.10" y2="232.60" stroke="#fff" stroke-width="0.6"/>
<line x1="99.50" y1="225.00" x2="162.40" y2="225.00" stroke="#fff" stroke-width="0.4"/>
<text x="110.15" y="223.52" font-size="5.6" text-anchor="middle" font-weight="bold" fill="#111">NES</text>
<text x="110.15" y="230.78" font-size="5.5" text-anchor="middle" fill="#2a2a2a" textLength="16.90" lengthAdjust="spacingAndGlyphs" stroke="#333" stroke-width="0.06">−2.758</text>
<text x="130.45" y="223.52" font-size="5.6" text-anchor="middle" font-weight="bold" fill="#111">pvalue</text>
<text x="130.45" y="230.78" font-size="5.5" text-anchor="middle" fill="#2a2a2a" textLength="14.20" lengthAdjust="spacingAndGlyphs" stroke="#333" stroke-width="0.06">1e−10</text>
<text x="151.25" y="223.52" font-size="5.6" text-anchor="middle" font-weight="bold" fill="#111">p.adjust</text>
<text x="151.25" y="230.78" font-size="5.5" text-anchor="middle" fill="#2a2a2a" textLength="18.30" lengthAdjust="spacingAndGlyphs" stroke="#333" stroke-width="0.06">5.1e−09</text>
<rect x="36.30" y="282.40" width="3.90" height="21.80" fill="#000" fill-opacity="0.65"/>
<rect x="41.80" y="282.40" width="2.30" height="21.80" fill="#000" fill-opacity="0.4"/>
<rect x="46.10" y="282.40" width="2.90" height="21.80" fill="#000" fill-opacity="0.75"/>
<rect x="50.00" y="282.40" width="2.90" height="21.80" fill="#000" fill-opacity="0.3"/>
<rect x="53.90" y="282.40" width="9.20" height="21.80" fill="#000" fill-opacity="0.55"/>
<rect x="63.10" y="282.40" width="2.60" height="21.80" fill="#000" fill-opacity="0.9"/>
<rect x="67.50" y="282.40" width="5.10" height="21.80" fill="#000" fill-opacity="0.55"/>
<rect x="74.50" y="282.40" width="2.70" height="21.80" fill="#000" fill-opacity="0.8"/>
<rect x="78.00" y="282.40" width="1.60" height="21.80" fill="#000" fill-opacity="0.15"/>
<rect x="79.60" y="282.40" width="1.70" height="21.80" fill="#000" fill-opacity="0.8"/>
<rect x="81.30" y="282.40" width="2.30" height="21.80" fill="#000" fill-opacity="0.45"/>
<rect x="83.60" y="282.40" width="1.30" height="21.80" fill="#000" fill-opacity="0.8"/>
<rect x="84.90" y="282.40" width="1.30" height="21.80" fill="#000" fill-opacity="0.35"/>
<rect x="86.20" y="282.40" width="1.90" height="21.80" fill="#000" fill-opacity="0.9"/>
<rect x="88.10" y="282.40" width="1.00" height="21.80" fill="#000" fill-opacity="0.4"/>
<rect x="89.10" y="282.40" width="1.30" height="21.80" fill="#000" fill-opacity="0.55"/>
<rect x="90.40" y="282.40" width="1.70" height="21.80" fill="#000" fill-opacity="0.85"/>
<rect x="92.10" y="282.40" width="1.90" height="21.80" fill="#000" fill-opacity="0.5"/>
<rect x="95.00" y="282.40" width="2.00" height="21.80" fill="#000" fill-opacity="0.25"/>
<rect x="97.00" y="282.40" width="1.90" height="21.80" fill="#000" fill-opacity="0.35"/>
<rect x="98.90" y="282.40" width="1.60" height="21.80" fill="#000" fill-opacity="0.5"/>
<rect x="100.50" y="282.40" width="1.70" height="21.80" fill="#000" fill-opacity="0.9"/>
<rect x="102.20" y="282.40" width="1.60" height="21.80" fill="#000" fill-opacity="0.45"/>
<rect x="103.80" y="282.40" width="1.70" height="21.80" fill="#000" fill-opacity="0.9"/>
<rect x="105.50" y="282.40" width="1.30" height="21.80" fill="#000" fill-opacity="0.35"/>
<rect x="106.80" y="282.40" width="1.90" height="21.80" fill="#000" fill-opacity="0.55"/>
<rect x="108.70" y="282.40" width="1.70" height="21.80" fill="#000" fill-opacity="0.75"/>
<rect x="110.40" y="282.40" width="1.60" height="21.80" fill="#000" fill-opacity="0.4"/>
<rect x="113.30" y="282.40" width="2.60" height="21.80" fill="#000" fill-opacity="0.8"/>
<rect x="115.90" y="282.40" width="1.00" height="21.80" fill="#000" fill-opacity="0.2"/>
<rect x="116.90" y="282.40" width="1.00" height="21.80" fill="#000" fill-opacity="0.8"/>
<rect x="117.90" y="282.40" width="1.00" height="21.80" fill="#000" fill-opacity="0.1"/>
<rect x="118.90" y="282.40" width="2.90" height="21.80" fill="#000" fill-opacity="0.7"/>
<rect x="121.80" y="282.40" width="1.60" height="21.80" fill="#000" fill-opacity="0.45"/>
<rect x="123.40" y="282.40" width="5.60" height="21.80" fill="#000" fill-opacity="0.65"/>
<rect x="129.00" y="282.40" width="1.30" height="21.80" fill="#000" fill-opacity="0.5"/>
<rect x="130.30" y="282.40" width="2.60" height="21.80" fill="#000" fill-opacity="0.75"/>
<rect x="132.90" y="282.40" width="1.60" height="21.80" fill="#000" fill-opacity="0.1"/>
<rect x="134.50" y="282.40" width="3.00" height="21.80" fill="#000" fill-opacity="0.8"/>
<rect x="137.50" y="282.40" width="1.60" height="21.80" fill="#000" fill-opacity="0.9"/>
<rect x="139.10" y="282.40" width="1.70" height="21.80" fill="#000" fill-opacity="0.45"/>
<rect x="140.80" y="282.40" width="0.80" height="21.80" fill="#000" fill-opacity="0.7"/>
<rect x="141.60" y="282.40" width="1.00" height="21.80" fill="#000" fill-opacity="0.85"/>
<rect x="142.60" y="282.40" width="2.60" height="21.80" fill="#000" fill-opacity="0.6"/>
<rect x="145.20" y="282.40" width="1.30" height="21.80" fill="#000" fill-opacity="0.85"/>
<rect x="146.50" y="282.40" width="0.70" height="21.80" fill="#000" fill-opacity="0.35"/>
<rect x="147.20" y="282.40" width="2.30" height="21.80" fill="#000" fill-opacity="0.6"/>
<rect x="149.50" y="282.40" width="1.00" height="21.80" fill="#000" fill-opacity="0.85"/>
<rect x="150.50" y="282.40" width="2.60" height="21.80" fill="#000" fill-opacity="0.5"/>
<rect x="153.10" y="282.40" width="1.00" height="21.80" fill="#000" fill-opacity="0.85"/>
<rect x="154.10" y="282.40" width="1.90" height="21.80" fill="#000" fill-opacity="0.5"/>
<rect x="156.00" y="282.40" width="1.30" height="21.80" fill="#000" fill-opacity="0.9"/>
<rect x="157.30" y="282.40" width="3.00" height="21.80" fill="#000" fill-opacity="0.7"/>
<rect x="160.30" y="282.40" width="1.60" height="21.80" fill="#000" fill-opacity="0.95"/>
<rect x="161.90" y="282.40" width="1.00" height="21.80" fill="#000" fill-opacity="0.75"/>
<rect x="162.90" y="282.40" width="6.50" height="21.80" fill="#000" fill-opacity="0.95"/>
<rect x="33.60" y="297.80" width="2.15" height="6.40" fill="#DE2D26" fill-opacity="0.9"/>
<rect x="35.70" y="297.80" width="5.35" height="6.40" fill="#FB6A4A" fill-opacity="0.9"/>
<rect x="41.00" y="297.80" width="8.15" height="6.40" fill="#FCAE91" fill-opacity="0.9"/>
<rect x="49.10" y="297.80" width="13.45" height="6.40" fill="#FEE5D9" fill-opacity="0.9"/>
<rect x="62.50" y="297.80" width="17.75" height="6.40" fill="#EFF3FF" fill-opacity="0.9"/>
<rect x="80.20" y="297.80" width="29.95" height="6.40" fill="#BDD7E7" fill-opacity="0.9"/>
<rect x="110.10" y="297.80" width="24.75" height="6.40" fill="#6BAED6" fill-opacity="0.9"/>
<rect x="134.80" y="297.80" width="33.45" height="6.40" fill="#3182BD" fill-opacity="0.9"/>
<rect x="168.20" y="297.80" width="1.25" height="6.40" fill="#08519C" fill-opacity="0.9"/>
<line x1="30.30" y1="306.75" x2="33.60" y2="306.75" stroke="#222" stroke-width="0.85"/>
<text x="28.40" y="309.05" font-size="6.5" text-anchor="end" fill="#333" stroke="#333" stroke-width="0.22">25</text>
<line x1="30.30" y1="320.35" x2="33.60" y2="320.35" stroke="#222" stroke-width="0.85"/>
<text x="28.40" y="322.65" font-size="6.5" text-anchor="end" fill="#333" stroke="#333" stroke-width="0.22">0</text>
<line x1="30.30" y1="333.95" x2="33.60" y2="333.95" stroke="#222" stroke-width="0.85"/>
<text x="28.40" y="336.25" font-size="6.5" text-anchor="end" fill="#333" stroke="#333" stroke-width="0.22">−25</text>
<path d="M33.60,320.90 L33.60,312.92 L34.41,313.20 L37.13,314.25 L41.20,315.20 L45.14,315.96 L49.08,316.62 L53.02,317.29 L56.96,317.86 L61.03,318.24 L64.97,318.62 L68.91,319.00 L72.98,319.28 L81.13,319.66 L94.71,320.14 L104.22,320.52 L113.72,320.90 L121.87,321.28 L131.38,321.66 L139.52,322.23 L147.13,322.89 L155.01,324.03 L161.39,325.65 L164.51,326.79 L166.96,328.69 L168.18,330.59 L168.72,334.48 L169.13,341.80 L169.40,345.60 L169.40,320.90 Z" fill="#bebebe"/>
<line x1="33.60" y1="215.20" x2="33.60" y2="349.40" stroke="#222" stroke-width="0.8"/>
<line x1="33.60" y1="349.10" x2="169.40" y2="349.10" stroke="#222" stroke-width="0.8"/>
<line x1="59.72" y1="349.10" x2="59.72" y2="352.30" stroke="#222" stroke-width="0.85"/>
<text x="59.72" y="358.60" font-size="6.2" text-anchor="middle" fill="#333" stroke="#333" stroke-width="0.22">5000</text>
<line x1="85.83" y1="349.10" x2="85.83" y2="352.30" stroke="#222" stroke-width="0.85"/>
<text x="85.83" y="358.60" font-size="6.2" text-anchor="middle" fill="#333" stroke="#333" stroke-width="0.22">10000</text>
<line x1="111.95" y1="349.10" x2="111.95" y2="352.30" stroke="#222" stroke-width="0.85"/>
<text x="111.95" y="358.60" font-size="6.2" text-anchor="middle" fill="#333" stroke="#333" stroke-width="0.22">15000</text>
<line x1="138.06" y1="349.10" x2="138.06" y2="352.30" stroke="#222" stroke-width="0.85"/>
<text x="138.06" y="358.60" font-size="6.2" text-anchor="middle" fill="#333" stroke="#333" stroke-width="0.22">20000</text>
<line x1="164.18" y1="349.10" x2="164.18" y2="352.30" stroke="#222" stroke-width="0.85"/>
<text x="164.18" y="358.60" font-size="6.2" text-anchor="middle" fill="#333" stroke="#333" stroke-width="0.22">25000</text>
<text x="101.50" y="368.50" font-size="8.0" text-anchor="middle" fill="#111" textLength="65.50" lengthAdjust="spacingAndGlyphs" stroke="#333" stroke-width="0.22">Rank in ordered dataset</text>
<text transform="translate(10.40,248.70) rotate(-90)" font-size="8.0" fill="#1a1a1a" stroke="#222" stroke-width="0.15" text-anchor="middle" textLength="69.2" lengthAdjust="spacingAndGlyphs" y="2">Running enrichment score</text>
<text transform="translate(10.40,320.50) rotate(-90)" font-size="8.0" fill="#1a1a1a" stroke="#222" stroke-width="0.15" text-anchor="middle" textLength="46.4" lengthAdjust="spacingAndGlyphs" y="2">Ranked list metric</text>
</g>
<g>
<text x="198.80" y="203.70" font-size="6.5" text-anchor="start" fill="#1a1a1a" textLength="145.50" lengthAdjust="spacingAndGlyphs">GOBP_Cell_Cell_Adhesion_Via_Plasma_Membrane_</text>
<text x="198.80" y="211.20" font-size="6.5" text-anchor="start" fill="#1a1a1a" textLength="55.40" lengthAdjust="spacingAndGlyphs">Adhesion_Molecules</text>
<line x1="215.04" y1="215.70" x2="215.04" y2="283.80" stroke="#ebebeb" stroke-width="0.6"/>
<line x1="215.04" y1="305.60" x2="215.04" y2="349.20" stroke="#ebebeb" stroke-width="0.6"/>
<line x1="228.08" y1="215.70" x2="228.08" y2="283.80" stroke="#ebebeb" stroke-width="0.6"/>
<line x1="228.08" y1="305.60" x2="228.08" y2="349.20" stroke="#ebebeb" stroke-width="0.6"/>
<line x1="241.12" y1="215.70" x2="241.12" y2="283.80" stroke="#ebebeb" stroke-width="0.6"/>
<line x1="241.12" y1="305.60" x2="241.12" y2="349.20" stroke="#ebebeb" stroke-width="0.6"/>
<line x1="254.15" y1="215.70" x2="254.15" y2="283.80" stroke="#ebebeb" stroke-width="0.6"/>
<line x1="254.15" y1="305.60" x2="254.15" y2="349.20" stroke="#ebebeb" stroke-width="0.6"/>
<line x1="267.19" y1="215.70" x2="267.19" y2="283.80" stroke="#ebebeb" stroke-width="0.6"/>
<line x1="267.19" y1="305.60" x2="267.19" y2="349.20" stroke="#ebebeb" stroke-width="0.6"/>
<line x1="280.23" y1="215.70" x2="280.23" y2="283.80" stroke="#ebebeb" stroke-width="0.6"/>
<line x1="280.23" y1="305.60" x2="280.23" y2="349.20" stroke="#ebebeb" stroke-width="0.6"/>
<line x1="293.27" y1="215.70" x2="293.27" y2="283.80" stroke="#ebebeb" stroke-width="0.6"/>
<line x1="293.27" y1="305.60" x2="293.27" y2="349.20" stroke="#ebebeb" stroke-width="0.6"/>
<line x1="306.31" y1="215.70" x2="306.31" y2="283.80" stroke="#ebebeb" stroke-width="0.6"/>
<line x1="306.31" y1="305.60" x2="306.31" y2="349.20" stroke="#ebebeb" stroke-width="0.6"/>
<line x1="319.35" y1="215.70" x2="319.35" y2="283.80" stroke="#ebebeb" stroke-width="0.6"/>
<line x1="319.35" y1="305.60" x2="319.35" y2="349.20" stroke="#ebebeb" stroke-width="0.6"/>
<line x1="332.38" y1="215.70" x2="332.38" y2="283.80" stroke="#ebebeb" stroke-width="0.6"/>
<line x1="332.38" y1="305.60" x2="332.38" y2="349.20" stroke="#ebebeb" stroke-width="0.6"/>
<line x1="198.70" y1="222.00" x2="202.00" y2="222.00" stroke="#222" stroke-width="0.85"/>
<text x="196.80" y="224.30" font-size="6.5" text-anchor="end" fill="#333" stroke="#333" stroke-width="0.22">0.0</text>
<line x1="198.70" y1="235.90" x2="202.00" y2="235.90" stroke="#222" stroke-width="0.85"/>
<text x="196.80" y="238.20" font-size="6.5" text-anchor="end" fill="#333" stroke="#333" stroke-width="0.22">−0.1</text>
<line x1="198.70" y1="249.80" x2="202.00" y2="249.80" stroke="#222" stroke-width="0.85"/>
<text x="196.80" y="252.10" font-size="6.5" text-anchor="end" fill="#333" stroke="#333" stroke-width="0.22">−0.2</text>
<line x1="198.70" y1="263.70" x2="202.00" y2="263.70" stroke="#222" stroke-width="0.85"/>
<text x="196.80" y="266.00" font-size="6.5" text-anchor="end" fill="#333" stroke="#333" stroke-width="0.22">−0.3</text>
<line x1="198.70" y1="277.60" x2="202.00" y2="277.60" stroke="#222" stroke-width="0.85"/>
<text x="196.80" y="279.90" font-size="6.5" text-anchor="end" fill="#333" stroke="#333" stroke-width="0.22">−0.4</text>
<polyline points="202.00,223.20 203.40,221.40 205.40,221.40 207.40,222.10 209.40,220.70 212.10,224.10 214.80,226.80 217.50,228.10 220.20,228.80 221.30,229.90 222.90,228.10 224.90,229.50 226.90,230.20 228.30,228.50 231.00,230.80 233.60,230.20 235.70,230.80 237.70,229.50 239.70,230.40 243.10,232.20 247.10,234.50 251.10,237.60 253.80,238.50 256.50,239.60 260.60,242.50 264.60,245.60 270.00,250.30 276.70,256.80 283.50,263.80 290.20,270.50 296.90,274.80 303.60,277.90 307.00,279.30 309.00,278.30 311.70,278.90 314.40,278.30 317.10,277.00 319.80,276.20 322.50,272.10 324.50,271.90 326.50,270.50 328.50,261.80 330.60,257.70 332.60,255.70 333.90,251.70 335.30,243.60 336.60,231.50 337.60,222.10" fill="none" stroke="#33ee33" stroke-width="1.1" stroke-linejoin="round"/>
<rect x="266.80" y="221.40" width="63.30" height="6.80" fill="#d0d0d0"/>
<rect x="266.80" y="228.20" width="63.30" height="7.40" fill="#efefef"/>
<line x1="288.60" y1="221.40" x2="288.60" y2="235.60" stroke="#fff" stroke-width="0.6"/>
<line x1="307.70" y1="221.40" x2="307.70" y2="235.60" stroke="#fff" stroke-width="0.6"/>
<line x1="266.80" y1="228.20" x2="330.10" y2="228.20" stroke="#fff" stroke-width="0.4"/>
<text x="277.70" y="226.82" font-size="5.6" text-anchor="middle" font-weight="bold" fill="#111">NES</text>
<text x="277.70" y="233.88" font-size="5.5" text-anchor="middle" fill="#2a2a2a" textLength="19.30" lengthAdjust="spacingAndGlyphs" stroke="#333" stroke-width="0.06">−1.9494</text>
<text x="298.15" y="226.82" font-size="5.6" text-anchor="middle" font-weight="bold" fill="#111">pvalue</text>
<text x="298.15" y="233.88" font-size="5.5" text-anchor="middle" fill="#2a2a2a" textLength="14.80" lengthAdjust="spacingAndGlyphs" stroke="#333" stroke-width="0.06">1e−10</text>
<text x="318.90" y="226.82" font-size="5.6" text-anchor="middle" font-weight="bold" fill="#111">p.adjust</text>
<text x="318.90" y="233.88" font-size="5.5" text-anchor="middle" fill="#2a2a2a" textLength="19.30" lengthAdjust="spacingAndGlyphs" stroke="#333" stroke-width="0.06">5.5e−09</text>
<rect x="203.00" y="283.80" width="4.20" height="21.80" fill="#000" fill-opacity="0.25"/>
<rect x="207.20" y="283.80" width="2.30" height="21.80" fill="#000" fill-opacity="0.4"/>
<rect x="215.00" y="283.80" width="1.70" height="21.80" fill="#000" fill-opacity="0.35"/>
<rect x="217.60" y="283.80" width="1.70" height="21.80" fill="#000" fill-opacity="0.55"/>
<rect x="220.90" y="283.80" width="2.00" height="21.80" fill="#000" fill-opacity="0.7"/>
<rect x="222.90" y="283.80" width="1.30" height="21.80" fill="#000" fill-opacity="0.15"/>
<rect x="224.20" y="283.80" width="1.90" height="21.80" fill="#000" fill-opacity="0.35"/>
<rect x="226.10" y="283.80" width="2.70" height="21.80" fill="#000" fill-opacity="0.5"/>
<rect x="228.80" y="283.80" width="1.90" height="21.80" fill="#000" fill-opacity="0.35"/>
<rect x="230.70" y="283.80" width="1.70" height="21.80" fill="#000" fill-opacity="0.7"/>
<rect x="232.40" y="283.80" width="1.60" height="21.80" fill="#000" fill-opacity="0.45"/>
<rect x="234.00" y="283.80" width="1.00" height="21.80" fill="#000" fill-opacity="0.5"/>
<rect x="235.00" y="283.80" width="1.00" height="21.80" fill="#000" fill-opacity="0.1"/>
<rect x="236.00" y="283.80" width="1.30" height="21.80" fill="#000" fill-opacity="0.85"/>
<rect x="237.30" y="283.80" width="4.50" height="21.80" fill="#000" fill-opacity="0.45"/>
<rect x="242.80" y="283.80" width="1.00" height="21.80" fill="#000" fill-opacity="0.7"/>
<rect x="243.80" y="283.80" width="4.30" height="21.80" fill="#000" fill-opacity="0.5"/>
<rect x="249.00" y="283.80" width="2.30" height="21.80" fill="#000" fill-opacity="0.35"/>
<rect x="251.30" y="283.80" width="2.30" height="21.80" fill="#000" fill-opacity="0.9"/>
<rect x="253.60" y="283.80" width="2.90" height="21.80" fill="#000" fill-opacity="0.45"/>
<rect x="256.50" y="283.80" width="1.40" height="21.80" fill="#000" fill-opacity="0.75"/>
<rect x="259.80" y="283.80" width="1.70" height="21.80" fill="#000" fill-opacity="0.85"/>
<rect x="261.50" y="283.80" width="3.20" height="21.80" fill="#000" fill-opacity="0.45"/>
<rect x="264.70" y="283.80" width="1.30" height="21.80" fill="#000" fill-opacity="0.6"/>
<rect x="266.00" y="283.80" width="2.00" height="21.80" fill="#000" fill-opacity="0.4"/>
<rect x="268.00" y="283.80" width="1.00" height="21.80" fill="#000" fill-opacity="0.4"/>
<rect x="270.30" y="283.80" width="1.60" height="21.80" fill="#000" fill-opacity="0.6"/>
<rect x="274.20" y="283.80" width="3.60" height="21.80" fill="#000" fill-opacity="0.3"/>
<rect x="277.80" y="283.80" width="2.90" height="21.80" fill="#000" fill-opacity="0.6"/>
<rect x="280.70" y="283.80" width="1.70" height="21.80" fill="#000" fill-opacity="0.85"/>
<rect x="282.40" y="283.80" width="2.60" height="21.80" fill="#000" fill-opacity="0.65"/>
<rect x="285.00" y="283.80" width="2.00" height="21.80" fill="#000" fill-opacity="0.2"/>
<rect x="288.00" y="283.80" width="1.90" height="21.80" fill="#000" fill-opacity="0.7"/>
<rect x="289.90" y="283.80" width="1.00" height="21.80" fill="#000" fill-opacity="0.2"/>
<rect x="290.90" y="283.80" width="3.20" height="21.80" fill="#000" fill-opacity="0.75"/>
<rect x="294.10" y="283.80" width="1.00" height="21.80" fill="#000" fill-opacity="0.3"/>
<rect x="295.10" y="283.80" width="3.60" height="21.80" fill="#000" fill-opacity="0.6"/>
<rect x="298.70" y="283.80" width="3.30" height="21.80" fill="#000" fill-opacity="0.5"/>
<rect x="302.00" y="283.80" width="1.10" height="21.80" fill="#000" fill-opacity="0.1"/>
<rect x="303.10" y="283.80" width="3.70" height="21.80" fill="#000" fill-opacity="0.6"/>
<rect x="306.80" y="283.80" width="1.00" height="21.80" fill="#000" fill-opacity="0.85"/>
<rect x="307.80" y="283.80" width="2.20" height="21.80" fill="#000" fill-opacity="0.45"/>
<rect x="310.00" y="283.80" width="0.80" height="21.80" fill="#000" fill-opacity="0.7"/>
<rect x="310.80" y="283.80" width="2.20" height="21.80" fill="#000" fill-opacity="0.5"/>
<rect x="313.00" y="283.80" width="1.10" height="21.80" fill="#000" fill-opacity="0.25"/>
<rect x="314.10" y="283.80" width="2.50" height="21.80" fill="#000" fill-opacity="0.85"/>
<rect x="316.60" y="283.80" width="1.50" height="21.80" fill="#000" fill-opacity="0.5"/>
<rect x="318.10" y="283.80" width="4.70" height="21.80" fill="#000" fill-opacity="0.65"/>
<rect x="323.90" y="283.80" width="4.10" height="21.80" fill="#000" fill-opacity="0.7"/>
<rect x="328.00" y="283.80" width="1.80" height="21.80" fill="#000" fill-opacity="0.85"/>
<rect x="329.80" y="283.80" width="4.40" height="21.80" fill="#000" fill-opacity="0.5"/>
<rect x="334.20" y="283.80" width="3.30" height="21.80" fill="#000" fill-opacity="0.9"/>
<rect x="202.00" y="298.90" width="8.55" height="6.70" fill="#DE2D26" fill-opacity="0.9"/>
<rect x="210.50" y="298.90" width="10.45" height="6.70" fill="#FB6A4A" fill-opacity="0.9"/>
<rect x="220.90" y="298.90" width="11.15" height="6.70" fill="#FCAE91" fill-opacity="0.9"/>
<rect x="232.00" y="298.90" width="11.85" height="6.70" fill="#FEE5D9" fill-opacity="0.9"/>
<rect x="243.80" y="298.90" width="15.45" height="6.70" fill="#EFF3FF" fill-opacity="0.9"/>
<rect x="259.20" y="298.90" width="24.85" height="6.70" fill="#BDD7E7" fill-opacity="0.9"/>
<rect x="284.00" y="298.90" width="18.35" height="6.70" fill="#6BAED6" fill-opacity="0.9"/>
<rect x="302.30" y="298.90" width="33.75" height="6.70" fill="#3182BD" fill-opacity="0.9"/>
<rect x="336.00" y="298.90" width="1.65" height="6.70" fill="#08519C" fill-opacity="0.9"/>
<line x1="198.70" y1="308.40" x2="202.00" y2="308.40" stroke="#222" stroke-width="0.85"/>
<text x="196.80" y="310.70" font-size="6.5" text-anchor="end" fill="#333" stroke="#333" stroke-width="0.22">25</text>
<line x1="198.70" y1="322.30" x2="202.00" y2="322.30" stroke="#222" stroke-width="0.85"/>
<text x="196.80" y="324.60" font-size="6.5" text-anchor="end" fill="#333" stroke="#333" stroke-width="0.22">0</text>
<line x1="198.70" y1="336.20" x2="202.00" y2="336.20" stroke="#222" stroke-width="0.85"/>
<text x="196.80" y="338.50" font-size="6.5" text-anchor="end" fill="#333" stroke="#333" stroke-width="0.22">−25</text>
<path d="M202.00,321.70 L202.00,314.14 L202.81,314.41 L205.53,315.40 L209.59,316.30 L213.53,317.02 L217.46,317.65 L221.39,318.28 L225.32,318.82 L229.39,319.18 L233.32,319.54 L237.26,319.90 L241.32,320.17 L249.46,320.53 L263.02,320.98 L272.51,321.34 L282.00,321.70 L290.14,322.06 L299.63,322.42 L307.77,322.96 L315.36,323.59 L323.23,324.67 L329.60,326.20 L332.72,327.28 L335.16,329.08 L336.38,330.88 L336.92,334.57 L337.33,341.50 L337.60,345.10 L337.60,321.70 Z" fill="#bebebe"/>
<line x1="202.00" y1="215.70" x2="202.00" y2="349.50" stroke="#222" stroke-width="0.8"/>
<line x1="202.00" y1="349.20" x2="337.60" y2="349.20" stroke="#222" stroke-width="0.8"/>
<line x1="228.08" y1="349.20" x2="228.08" y2="352.40" stroke="#222" stroke-width="0.85"/>
<text x="228.08" y="358.70" font-size="6.2" text-anchor="middle" fill="#333" stroke="#333" stroke-width="0.22">5000</text>
<line x1="254.15" y1="349.20" x2="254.15" y2="352.40" stroke="#222" stroke-width="0.85"/>
<text x="254.15" y="358.70" font-size="6.2" text-anchor="middle" fill="#333" stroke="#333" stroke-width="0.22">10000</text>
<line x1="280.23" y1="349.20" x2="280.23" y2="352.40" stroke="#222" stroke-width="0.85"/>
<text x="280.23" y="358.70" font-size="6.2" text-anchor="middle" fill="#333" stroke="#333" stroke-width="0.22">15000</text>
<line x1="306.31" y1="349.20" x2="306.31" y2="352.40" stroke="#222" stroke-width="0.85"/>
<text x="306.31" y="358.70" font-size="6.2" text-anchor="middle" fill="#333" stroke="#333" stroke-width="0.22">20000</text>
<line x1="332.38" y1="349.20" x2="332.38" y2="352.40" stroke="#222" stroke-width="0.85"/>
<text x="332.38" y="358.70" font-size="6.2" text-anchor="middle" fill="#333" stroke="#333" stroke-width="0.22">25000</text>
<text x="269.80" y="368.60" font-size="8.0" text-anchor="middle" fill="#111" textLength="65.50" lengthAdjust="spacingAndGlyphs" stroke="#333" stroke-width="0.22">Rank in ordered dataset</text>
<text transform="translate(178.50,250.40) rotate(-90)" font-size="8.0" fill="#1a1a1a" stroke="#222" stroke-width="0.15" text-anchor="middle" textLength="69.4" lengthAdjust="spacingAndGlyphs" y="2">Running enrichment score</text>
<text transform="translate(178.50,321.80) rotate(-90)" font-size="8.0" fill="#1a1a1a" stroke="#222" stroke-width="0.15" text-anchor="middle" textLength="46.1" lengthAdjust="spacingAndGlyphs" y="2">Ranked list metric</text>
</g>
<g>
<text x="367.80" y="206.20" font-size="6.5" text-anchor="start" fill="#1a1a1a" textLength="83.20" lengthAdjust="spacingAndGlyphs">WP_Vitamin_B12_Metabolism</text>
<line x1="383.73" y1="210.90" x2="383.73" y2="280.30" stroke="#ebebeb" stroke-width="0.6"/>
<line x1="383.73" y1="302.70" x2="383.73" y2="349.00" stroke="#ebebeb" stroke-width="0.6"/>
<line x1="397.35" y1="210.90" x2="397.35" y2="280.30" stroke="#ebebeb" stroke-width="0.6"/>
<line x1="397.35" y1="302.70" x2="397.35" y2="349.00" stroke="#ebebeb" stroke-width="0.6"/>
<line x1="410.98" y1="210.90" x2="410.98" y2="280.30" stroke="#ebebeb" stroke-width="0.6"/>
<line x1="410.98" y1="302.70" x2="410.98" y2="349.00" stroke="#ebebeb" stroke-width="0.6"/>
<line x1="424.60" y1="210.90" x2="424.60" y2="280.30" stroke="#ebebeb" stroke-width="0.6"/>
<line x1="424.60" y1="302.70" x2="424.60" y2="349.00" stroke="#ebebeb" stroke-width="0.6"/>
<line x1="438.23" y1="210.90" x2="438.23" y2="280.30" stroke="#ebebeb" stroke-width="0.6"/>
<line x1="438.23" y1="302.70" x2="438.23" y2="349.00" stroke="#ebebeb" stroke-width="0.6"/>
<line x1="451.85" y1="210.90" x2="451.85" y2="280.30" stroke="#ebebeb" stroke-width="0.6"/>
<line x1="451.85" y1="302.70" x2="451.85" y2="349.00" stroke="#ebebeb" stroke-width="0.6"/>
<line x1="465.48" y1="210.90" x2="465.48" y2="280.30" stroke="#ebebeb" stroke-width="0.6"/>
<line x1="465.48" y1="302.70" x2="465.48" y2="349.00" stroke="#ebebeb" stroke-width="0.6"/>
<line x1="479.10" y1="210.90" x2="479.10" y2="280.30" stroke="#ebebeb" stroke-width="0.6"/>
<line x1="479.10" y1="302.70" x2="479.10" y2="349.00" stroke="#ebebeb" stroke-width="0.6"/>
<line x1="492.73" y1="210.90" x2="492.73" y2="280.30" stroke="#ebebeb" stroke-width="0.6"/>
<line x1="492.73" y1="302.70" x2="492.73" y2="349.00" stroke="#ebebeb" stroke-width="0.6"/>
<line x1="506.35" y1="210.90" x2="506.35" y2="280.30" stroke="#ebebeb" stroke-width="0.6"/>
<line x1="506.35" y1="302.70" x2="506.35" y2="349.00" stroke="#ebebeb" stroke-width="0.6"/>
<line x1="366.80" y1="214.90" x2="370.10" y2="214.90" stroke="#222" stroke-width="0.85"/>
<text x="364.90" y="217.20" font-size="6.5" text-anchor="end" fill="#333" stroke="#333" stroke-width="0.22">0.0</text>
<line x1="366.80" y1="235.86" x2="370.10" y2="235.86" stroke="#222" stroke-width="0.85"/>
<text x="364.90" y="238.16" font-size="6.5" text-anchor="end" fill="#333" stroke="#333" stroke-width="0.22">−0.2</text>
<line x1="366.80" y1="256.82" x2="370.10" y2="256.82" stroke="#222" stroke-width="0.85"/>
<text x="364.90" y="259.12" font-size="6.5" text-anchor="end" fill="#333" stroke="#333" stroke-width="0.22">−0.4</text>
<line x1="366.80" y1="277.78" x2="370.10" y2="277.78" stroke="#222" stroke-width="0.85"/>
<text x="364.90" y="280.08" font-size="6.5" text-anchor="end" fill="#333" stroke="#333" stroke-width="0.22">−0.6</text>
<polyline points="370.20,215.00 370.60,215.40 373.00,218.10 375.70,219.80 376.80,216.70 378.20,215.40 379.80,217.20 381.40,215.00 383.10,216.30 384.90,217.40 386.20,215.80 387.80,217.40 389.90,214.50 391.90,216.10 394.60,218.10 396.60,216.70 398.60,217.70 402.00,220.10 404.00,220.40 409.40,224.20 414.80,228.20 416.10,228.90 422.80,232.90 429.60,237.60 439.00,244.10 446.20,249.10 453.40,253.90 460.60,258.80 467.90,264.00 472.20,265.70 476.50,268.60 482.30,271.80 486.60,273.70 489.50,272.20 491.70,274.10 493.80,275.80 496.00,274.40 497.40,275.50 499.30,272.90 501.00,274.70 503.20,271.50 505.10,270.00 506.80,265.70 508.30,260.00 509.40,247.70 510.40,246.20 511.20,242.60 511.40,231.10 511.80,215.20" fill="none" stroke="#33ee33" stroke-width="1.1" stroke-linejoin="round"/>
<rect x="421.30" y="211.90" width="87.70" height="6.90" fill="#d0d0d0"/>
<rect x="421.30" y="218.80" width="87.70" height="7.90" fill="#efefef"/>
<line x1="442.10" y1="211.90" x2="442.10" y2="226.70" stroke="#fff" stroke-width="0.6"/>
<line x1="476.30" y1="211.90" x2="476.30" y2="226.70" stroke="#fff" stroke-width="0.6"/>
<line x1="421.30" y1="218.80" x2="509.00" y2="218.80" stroke="#fff" stroke-width="0.4"/>
<text x="431.70" y="217.22" font-size="5.2" text-anchor="middle" font-weight="bold" fill="#111">NES</text>
<text x="431.70" y="224.62" font-size="5.2" text-anchor="middle" fill="#2a2a2a" textLength="18.50" lengthAdjust="spacingAndGlyphs" stroke="#333" stroke-width="0.06">−2.1063</text>
<text x="459.20" y="217.22" font-size="5.2" text-anchor="middle" font-weight="bold" fill="#111">pvalue</text>
<text x="459.20" y="224.62" font-size="5.2" text-anchor="middle" fill="#2a2a2a" textLength="25.30" lengthAdjust="spacingAndGlyphs" stroke="#333" stroke-width="0.06">5.6309e−06</text>
<text x="492.65" y="217.22" font-size="5.2" text-anchor="middle" font-weight="bold" fill="#111">p.adjust</text>
<text x="492.65" y="224.62" font-size="5.2" text-anchor="middle" fill="#2a2a2a" textLength="28.50" lengthAdjust="spacingAndGlyphs" stroke="#333" stroke-width="0.06">3.78157e−05</text>
<rect x="375.80" y="280.30" width="1.90" height="22.40" fill="#000" fill-opacity="0.4"/>
<rect x="380.50" y="280.30" width="1.40" height="22.40" fill="#000" fill-opacity="0.4"/>
<rect x="384.40" y="280.30" width="1.60" height="22.40" fill="#000" fill-opacity="0.45"/>
<rect x="387.90" y="280.30" width="2.30" height="22.40" fill="#000" fill-opacity="0.45"/>
<rect x="394.10" y="280.30" width="1.60" height="22.40" fill="#000" fill-opacity="0.35"/>
<rect x="395.70" y="280.30" width="1.40" height="22.40" fill="#000" fill-opacity="0.4"/>
<rect x="401.70" y="280.30" width="1.40" height="22.40" fill="#000" fill-opacity="0.5"/>
<rect x="420.20" y="280.30" width="1.80" height="22.40" fill="#000" fill-opacity="0.45"/>
<rect x="425.20" y="280.30" width="1.70" height="22.40" fill="#000" fill-opacity="0.45"/>
<rect x="434.90" y="280.30" width="1.40" height="22.40" fill="#000" fill-opacity="0.4"/>
<rect x="440.20" y="280.30" width="2.10" height="22.40" fill="#000" fill-opacity="0.3"/>
<rect x="442.30" y="280.30" width="1.40" height="22.40" fill="#000" fill-opacity="0.6"/>
<rect x="446.50" y="280.30" width="1.40" height="22.40" fill="#000" fill-opacity="0.4"/>
<rect x="454.80" y="280.30" width="1.40" height="22.40" fill="#000" fill-opacity="0.45"/>
<rect x="456.60" y="280.30" width="1.40" height="22.40" fill="#000" fill-opacity="0.5"/>
<rect x="464.80" y="280.30" width="1.10" height="22.40" fill="#000" fill-opacity="0.35"/>
<rect x="468.80" y="280.30" width="1.50" height="22.40" fill="#000" fill-opacity="0.6"/>
<rect x="470.30" y="280.30" width="2.40" height="22.40" fill="#000" fill-opacity="0.45"/>
<rect x="477.50" y="280.30" width="1.40" height="22.40" fill="#000" fill-opacity="0.3"/>
<rect x="481.10" y="280.30" width="1.70" height="22.40" fill="#000" fill-opacity="0.3"/>
<rect x="485.20" y="280.30" width="1.90" height="22.40" fill="#000" fill-opacity="0.4"/>
<rect x="487.60" y="280.30" width="1.90" height="22.40" fill="#000" fill-opacity="0.6"/>
<rect x="493.80" y="280.30" width="1.90" height="22.40" fill="#000" fill-opacity="0.5"/>
<rect x="497.20" y="280.30" width="1.90" height="22.40" fill="#000" fill-opacity="0.55"/>
<rect x="501.50" y="280.30" width="1.40" height="22.40" fill="#000" fill-opacity="0.55"/>
<rect x="503.90" y="280.30" width="3.40" height="22.40" fill="#000" fill-opacity="0.45"/>
<rect x="507.30" y="280.30" width="1.90" height="22.40" fill="#000" fill-opacity="0.75"/>
<rect x="509.20" y="280.30" width="1.40" height="22.40" fill="#000" fill-opacity="0.4"/>
<rect x="510.60" y="280.30" width="1.20" height="22.40" fill="#000" fill-opacity="0.6"/>
<rect x="370.10" y="296.20" width="1.65" height="6.50" fill="#DE2D26" fill-opacity="0.9"/>
<rect x="371.70" y="296.20" width="4.15" height="6.50" fill="#FB6A4A" fill-opacity="0.9"/>
<rect x="375.80" y="296.20" width="10.55" height="6.50" fill="#FCAE91" fill-opacity="0.9"/>
<rect x="386.30" y="296.20" width="13.35" height="6.50" fill="#FEE5D9" fill-opacity="0.9"/>
<rect x="399.60" y="296.20" width="16.75" height="6.50" fill="#EFF3FF" fill-opacity="0.9"/>
<rect x="416.30" y="296.20" width="24.15" height="6.50" fill="#BDD7E7" fill-opacity="0.9"/>
<rect x="440.40" y="296.20" width="44.45" height="6.50" fill="#6BAED6" fill-opacity="0.9"/>
<rect x="484.80" y="296.20" width="20.45" height="6.50" fill="#3182BD" fill-opacity="0.9"/>
<rect x="505.20" y="296.20" width="6.65" height="6.50" fill="#08519C" fill-opacity="0.9"/>
<line x1="366.80" y1="305.80" x2="370.10" y2="305.80" stroke="#222" stroke-width="0.85"/>
<text x="364.90" y="308.10" font-size="6.5" text-anchor="end" fill="#333" stroke="#333" stroke-width="0.22">25</text>
<line x1="366.80" y1="320.40" x2="370.10" y2="320.40" stroke="#222" stroke-width="0.85"/>
<text x="364.90" y="322.70" font-size="6.5" text-anchor="end" fill="#333" stroke="#333" stroke-width="0.22">0</text>
<line x1="366.80" y1="335.00" x2="370.10" y2="335.00" stroke="#222" stroke-width="0.85"/>
<text x="364.90" y="337.30" font-size="6.5" text-anchor="end" fill="#333" stroke="#333" stroke-width="0.22">−25</text>
<path d="M370.10,319.90 L370.10,311.92 L370.95,312.20 L373.78,313.25 L378.04,314.20 L382.14,314.96 L386.25,315.62 L390.36,316.29 L394.47,316.86 L398.72,317.24 L402.83,317.62 L406.94,318.00 L411.19,318.28 L419.69,318.66 L433.87,319.14 L443.78,319.52 L453.70,319.90 L462.21,320.28 L472.12,320.66 L480.63,321.23 L488.56,321.89 L496.78,323.03 L503.44,324.65 L506.70,325.79 L509.25,327.69 L510.52,329.59 L511.09,333.48 L511.52,340.80 L511.80,344.60 L511.80,319.90 Z" fill="#bebebe"/>
<line x1="370.10" y1="210.90" x2="370.10" y2="349.30" stroke="#222" stroke-width="0.8"/>
<line x1="370.10" y1="349.00" x2="511.80" y2="349.00" stroke="#222" stroke-width="0.8"/>
<line x1="397.35" y1="349.00" x2="397.35" y2="352.20" stroke="#222" stroke-width="0.85"/>
<text x="397.35" y="358.60" font-size="6.2" text-anchor="middle" fill="#333" stroke="#333" stroke-width="0.22">5000</text>
<line x1="424.60" y1="349.00" x2="424.60" y2="352.20" stroke="#222" stroke-width="0.85"/>
<text x="424.60" y="358.60" font-size="6.2" text-anchor="middle" fill="#333" stroke="#333" stroke-width="0.22">10000</text>
<line x1="451.85" y1="349.00" x2="451.85" y2="352.20" stroke="#222" stroke-width="0.85"/>
<text x="451.85" y="358.60" font-size="6.2" text-anchor="middle" fill="#333" stroke="#333" stroke-width="0.22">15000</text>
<line x1="479.10" y1="349.00" x2="479.10" y2="352.20" stroke="#222" stroke-width="0.85"/>
<text x="479.10" y="358.60" font-size="6.2" text-anchor="middle" fill="#333" stroke="#333" stroke-width="0.22">20000</text>
<line x1="506.35" y1="349.00" x2="506.35" y2="352.20" stroke="#222" stroke-width="0.85"/>
<text x="506.35" y="358.60" font-size="6.2" text-anchor="middle" fill="#333" stroke="#333" stroke-width="0.22">25000</text>
<text x="440.95" y="368.60" font-size="8.0" text-anchor="middle" fill="#111" textLength="65.50" lengthAdjust="spacingAndGlyphs" stroke="#333" stroke-width="0.22">Rank in ordered dataset</text>
<text transform="translate(347.60,246.20) rotate(-90)" font-size="8.0" fill="#1a1a1a" stroke="#222" stroke-width="0.15" text-anchor="middle" textLength="69.4" lengthAdjust="spacingAndGlyphs" y="2">Running enrichment score</text>
<text transform="translate(347.60,319.90) rotate(-90)" font-size="8.0" fill="#1a1a1a" stroke="#222" stroke-width="0.15" text-anchor="middle" textLength="46.3" lengthAdjust="spacingAndGlyphs" y="2">Ranked list metric</text>
</g>
<g>
<text x="199.30" y="388.20" font-size="6.5" text-anchor="start" fill="#1a1a1a" textLength="81.30" lengthAdjust="spacingAndGlyphs">Hallmark_Kras_Signaling_Dn</text>
<line x1="213.75" y1="393.90" x2="213.75" y2="465.80" stroke="#ebebeb" stroke-width="0.6"/>
<line x1="213.75" y1="488.00" x2="213.75" y2="534.60" stroke="#ebebeb" stroke-width="0.6"/>
<line x1="227.70" y1="393.90" x2="227.70" y2="465.80" stroke="#ebebeb" stroke-width="0.6"/>
<line x1="227.70" y1="488.00" x2="227.70" y2="534.60" stroke="#ebebeb" stroke-width="0.6"/>
<line x1="241.66" y1="393.90" x2="241.66" y2="465.80" stroke="#ebebeb" stroke-width="0.6"/>
<line x1="241.66" y1="488.00" x2="241.66" y2="534.60" stroke="#ebebeb" stroke-width="0.6"/>
<line x1="255.61" y1="393.90" x2="255.61" y2="465.80" stroke="#ebebeb" stroke-width="0.6"/>
<line x1="255.61" y1="488.00" x2="255.61" y2="534.60" stroke="#ebebeb" stroke-width="0.6"/>
<line x1="269.56" y1="393.90" x2="269.56" y2="465.80" stroke="#ebebeb" stroke-width="0.6"/>
<line x1="269.56" y1="488.00" x2="269.56" y2="534.60" stroke="#ebebeb" stroke-width="0.6"/>
<line x1="283.51" y1="393.90" x2="283.51" y2="465.80" stroke="#ebebeb" stroke-width="0.6"/>
<line x1="283.51" y1="488.00" x2="283.51" y2="534.60" stroke="#ebebeb" stroke-width="0.6"/>
<line x1="297.46" y1="393.90" x2="297.46" y2="465.80" stroke="#ebebeb" stroke-width="0.6"/>
<line x1="297.46" y1="488.00" x2="297.46" y2="534.60" stroke="#ebebeb" stroke-width="0.6"/>
<line x1="311.42" y1="393.90" x2="311.42" y2="465.80" stroke="#ebebeb" stroke-width="0.6"/>
<line x1="311.42" y1="488.00" x2="311.42" y2="534.60" stroke="#ebebeb" stroke-width="0.6"/>
<line x1="325.37" y1="393.90" x2="325.37" y2="465.80" stroke="#ebebeb" stroke-width="0.6"/>
<line x1="325.37" y1="488.00" x2="325.37" y2="534.60" stroke="#ebebeb" stroke-width="0.6"/>
<line x1="339.32" y1="393.90" x2="339.32" y2="465.80" stroke="#ebebeb" stroke-width="0.6"/>
<line x1="339.32" y1="488.00" x2="339.32" y2="534.60" stroke="#ebebeb" stroke-width="0.6"/>
<line x1="196.50" y1="401.90" x2="199.80" y2="401.90" stroke="#222" stroke-width="0.85"/>
<text x="194.60" y="404.20" font-size="6.5" text-anchor="end" fill="#333" stroke="#333" stroke-width="0.22">0.0</text>
<line x1="196.50" y1="418.15" x2="199.80" y2="418.15" stroke="#222" stroke-width="0.85"/>
<text x="194.60" y="420.45" font-size="6.5" text-anchor="end" fill="#333" stroke="#333" stroke-width="0.22">−0.1</text>
<line x1="196.50" y1="434.40" x2="199.80" y2="434.40" stroke="#222" stroke-width="0.85"/>
<text x="194.60" y="436.70" font-size="6.5" text-anchor="end" fill="#333" stroke="#333" stroke-width="0.22">−0.2</text>
<line x1="196.50" y1="450.65" x2="199.80" y2="450.65" stroke="#222" stroke-width="0.85"/>
<text x="194.60" y="452.95" font-size="6.5" text-anchor="end" fill="#333" stroke="#333" stroke-width="0.22">−0.3</text>
<polyline points="199.90,405.50 200.20,405.70 201.60,403.50 202.60,404.30 203.80,400.40 205.20,401.80 206.70,402.40 208.10,401.80 210.30,402.80 212.10,401.40 213.90,402.80 215.30,402.40 218.20,406.10 220.40,405.70 222.50,406.40 224.70,406.10 225.70,407.20 227.60,402.80 229.00,399.50 230.50,401.40 232.60,400.40 234.80,402.10 236.20,402.40 238.40,400.90 241.30,402.10 244.20,403.50 248.50,406.40 252.80,410.00 256.40,412.50 260.00,416.50 265.80,421.60 272.00,428.80 277.80,434.60 283.50,440.30 289.30,446.10 295.10,450.40 300.90,455.50 305.20,459.10 309.50,461.00 313.10,461.00 315.30,459.10 318.20,454.30 321.10,454.80 323.20,453.30 324.70,450.40 326.10,451.20 327.60,447.60 329.00,448.30 330.00,445.70 331.50,446.80 332.60,444.00 334.00,431.70 335.20,431.00 336.60,433.10 338.40,429.50 340.10,427.40 341.60,420.10 343.00,414.40 344.20,415.10 344.90,404.30" fill="none" stroke="#33ee33" stroke-width="1.1" stroke-linejoin="round"/>
<rect x="255.30" y="392.90" width="86.00" height="6.60" fill="#d0d0d0"/>
<rect x="255.30" y="399.50" width="86.00" height="7.90" fill="#efefef"/>
<line x1="275.10" y1="392.90" x2="275.10" y2="407.40" stroke="#fff" stroke-width="0.6"/>
<line x1="308.90" y1="392.90" x2="308.90" y2="407.40" stroke="#fff" stroke-width="0.6"/>
<line x1="255.30" y1="399.50" x2="341.30" y2="399.50" stroke="#fff" stroke-width="0.4"/>
<text x="265.20" y="398.07" font-size="5.2" text-anchor="middle" font-weight="bold" fill="#111">NES</text>
<text x="265.20" y="405.25" font-size="5.0" text-anchor="middle" fill="#2a2a2a" textLength="17.90" lengthAdjust="spacingAndGlyphs" stroke="#333" stroke-width="0.06">−1.5762</text>
<text x="292.00" y="398.07" font-size="5.2" text-anchor="middle" font-weight="bold" fill="#111">pvalue</text>
<text x="292.00" y="405.25" font-size="5.0" text-anchor="middle" fill="#2a2a2a" textLength="27.20" lengthAdjust="spacingAndGlyphs" stroke="#333" stroke-width="0.06">4.67594e−05</text>
<text x="325.10" y="398.07" font-size="5.2" text-anchor="middle" font-weight="bold" fill="#111">p.adjust</text>
<text x="325.10" y="405.25" font-size="5.0" text-anchor="middle" fill="#2a2a2a" textLength="30.90" lengthAdjust="spacingAndGlyphs" stroke="#333" stroke-width="0.06">0.0001113319</text>
<rect x="200.60" y="465.80" width="1.30" height="22.20" fill="#000" fill-opacity="0.2"/>
<rect x="202.60" y="465.80" width="1.30" height="22.20" fill="#000" fill-opacity="0.65"/>
<rect x="205.90" y="465.80" width="1.30" height="22.20" fill="#000" fill-opacity="0.45"/>
<rect x="207.20" y="465.80" width="3.20" height="22.20" fill="#000" fill-opacity="0.25"/>
<rect x="210.40" y="465.80" width="1.30" height="22.20" fill="#000" fill-opacity="0.65"/>
<rect x="213.70" y="465.80" width="1.30" height="22.20" fill="#000" fill-opacity="0.45"/>
<rect x="218.00" y="465.80" width="2.20" height="22.20" fill="#000" fill-opacity="0.35"/>
<rect x="220.20" y="465.80" width="1.30" height="22.20" fill="#000" fill-opacity="0.2"/>
<rect x="221.50" y="465.80" width="1.40" height="22.20" fill="#000" fill-opacity="0.65"/>
<rect x="222.90" y="465.80" width="2.90" height="22.20" fill="#000" fill-opacity="0.3"/>
<rect x="225.80" y="465.80" width="1.30" height="22.20" fill="#000" fill-opacity="0.75"/>
<rect x="227.10" y="465.80" width="2.00" height="22.20" fill="#000" fill-opacity="0.85"/>
<rect x="229.10" y="465.80" width="1.60" height="22.20" fill="#000" fill-opacity="0.2"/>
<rect x="230.70" y="465.80" width="2.30" height="22.20" fill="#000" fill-opacity="0.5"/>
<rect x="233.00" y="465.80" width="1.00" height="22.20" fill="#000" fill-opacity="0.4"/>
<rect x="235.60" y="465.80" width="2.60" height="22.20" fill="#000" fill-opacity="0.65"/>
<rect x="238.20" y="465.80" width="1.70" height="22.20" fill="#000" fill-opacity="0.35"/>
<rect x="239.90" y="465.80" width="3.90" height="22.20" fill="#000" fill-opacity="0.4"/>
<rect x="245.70" y="465.80" width="3.30" height="22.20" fill="#000" fill-opacity="0.4"/>
<rect x="251.30" y="465.80" width="2.00" height="22.20" fill="#000" fill-opacity="0.75"/>
<rect x="254.90" y="465.80" width="2.30" height="22.20" fill="#000" fill-opacity="0.8"/>
<rect x="258.50" y="465.80" width="1.30" height="22.20" fill="#000" fill-opacity="0.35"/>
<rect x="264.00" y="465.80" width="1.70" height="22.20" fill="#000" fill-opacity="0.35"/>
<rect x="269.00" y="465.80" width="4.50" height="22.20" fill="#000" fill-opacity="0.2"/>
<rect x="273.50" y="465.80" width="2.70" height="22.20" fill="#000" fill-opacity="0.7"/>
<rect x="276.20" y="465.80" width="1.60" height="22.20" fill="#000" fill-opacity="0.2"/>
<rect x="277.80" y="465.80" width="1.30" height="22.20" fill="#000" fill-opacity="0.55"/>
<rect x="279.10" y="465.80" width="1.00" height="22.20" fill="#000" fill-opacity="0.1"/>
<rect x="280.10" y="465.80" width="2.30" height="22.20" fill="#000" fill-opacity="0.75"/>
<rect x="282.40" y="465.80" width="1.90" height="22.20" fill="#000" fill-opacity="0.45"/>
<rect x="285.30" y="465.80" width="1.60" height="22.20" fill="#000" fill-opacity="0.85"/>
<rect x="286.90" y="465.80" width="1.00" height="22.20" fill="#000" fill-opacity="0.35"/>
<rect x="287.90" y="465.80" width="2.30" height="22.20" fill="#000" fill-opacity="0.75"/>
<rect x="290.20" y="465.80" width="1.30" height="22.20" fill="#000" fill-opacity="0.5"/>
<rect x="291.50" y="465.80" width="3.60" height="22.20" fill="#000" fill-opacity="0.7"/>
<rect x="296.10" y="465.80" width="1.30" height="22.20" fill="#000" fill-opacity="0.6"/>
<rect x="301.00" y="465.80" width="1.80" height="22.20" fill="#000" fill-opacity="0.3"/>
<rect x="302.80" y="465.80" width="2.20" height="22.20" fill="#000" fill-opacity="0.7"/>
<rect x="306.30" y="465.80" width="3.50" height="22.20" fill="#000" fill-opacity="0.55"/>
<rect x="309.80" y="465.80" width="2.70" height="22.20" fill="#000" fill-opacity="0.6"/>
<rect x="312.50" y="465.80" width="5.80" height="22.20" fill="#000" fill-opacity="0.8"/>
<rect x="318.30" y="465.80" width="1.70" height="22.20" fill="#000" fill-opacity="0.4"/>
<rect x="320.00" y="465.80" width="1.80" height="22.20" fill="#000" fill-opacity="0.1"/>
<rect x="321.80" y="465.80" width="3.10" height="22.20" fill="#000" fill-opacity="0.7"/>
<rect x="324.90" y="465.80" width="1.80" height="22.20" fill="#000" fill-opacity="0.2"/>
<rect x="326.70" y="465.80" width="1.30" height="22.20" fill="#000" fill-opacity="0.75"/>
<rect x="328.00" y="465.80" width="3.10" height="22.20" fill="#000" fill-opacity="0.1"/>
<rect x="331.10" y="465.80" width="4.00" height="22.20" fill="#000" fill-opacity="0.75"/>
<rect x="335.10" y="465.80" width="1.30" height="22.20" fill="#000" fill-opacity="0.2"/>
<rect x="336.40" y="465.80" width="2.70" height="22.20" fill="#000" fill-opacity="0.45"/>
<rect x="339.10" y="465.80" width="1.30" height="22.20" fill="#000" fill-opacity="0.2"/>
<rect x="340.40" y="465.80" width="2.20" height="22.20" fill="#000" fill-opacity="0.75"/>
<rect x="343.90" y="465.80" width="0.90" height="22.20" fill="#000" fill-opacity="0.5"/>
<rect x="199.80" y="481.50" width="11.95" height="6.50" fill="#DE2D26" fill-opacity="0.9"/>
<rect x="211.70" y="481.50" width="14.45" height="6.50" fill="#FB6A4A" fill-opacity="0.9"/>
<rect x="226.10" y="481.50" width="7.45" height="6.50" fill="#FCAE91" fill-opacity="0.9"/>
<rect x="233.50" y="481.50" width="17.55" height="6.50" fill="#FEE5D9" fill-opacity="0.9"/>
<rect x="251.00" y="481.50" width="10.05" height="6.50" fill="#EFF3FF" fill-opacity="0.9"/>
<rect x="261.00" y="481.50" width="27.25" height="6.50" fill="#BDD7E7" fill-opacity="0.9"/>
<rect x="288.20" y="481.50" width="23.95" height="6.50" fill="#6BAED6" fill-opacity="0.9"/>
<rect x="312.10" y="481.50" width="32.85" height="6.50" fill="#3182BD" fill-opacity="0.9"/>
<line x1="196.50" y1="490.30" x2="199.80" y2="490.30" stroke="#222" stroke-width="0.85"/>
<text x="194.60" y="492.60" font-size="6.5" text-anchor="end" fill="#333" stroke="#333" stroke-width="0.22">25</text>
<line x1="196.50" y1="505.30" x2="199.80" y2="505.30" stroke="#222" stroke-width="0.85"/>
<text x="194.60" y="507.60" font-size="6.5" text-anchor="end" fill="#333" stroke="#333" stroke-width="0.22">0</text>
<line x1="196.50" y1="520.30" x2="199.80" y2="520.30" stroke="#222" stroke-width="0.85"/>
<text x="194.60" y="522.60" font-size="6.5" text-anchor="end" fill="#333" stroke="#333" stroke-width="0.22">−25</text>
<path d="M199.80,505.70 L199.80,497.30 L200.67,497.60 L203.57,498.70 L207.93,499.70 L212.13,500.50 L216.34,501.20 L220.55,501.90 L224.76,502.50 L229.11,502.90 L233.32,503.30 L237.53,503.70 L241.88,504.00 L250.58,504.40 L265.10,504.90 L275.25,505.30 L285.41,505.70 L294.12,506.10 L304.27,506.50 L312.98,507.10 L321.10,507.80 L329.52,509.00 L336.34,510.70 L339.68,511.90 L342.29,513.90 L343.59,515.90 L344.17,520.00 L344.61,527.70 L344.90,531.70 L344.90,505.70 Z" fill="#bebebe"/>
<line x1="199.80" y1="393.90" x2="199.80" y2="534.90" stroke="#222" stroke-width="0.8"/>
<line x1="199.80" y1="534.60" x2="344.90" y2="534.60" stroke="#222" stroke-width="0.8"/>
<line x1="227.70" y1="534.60" x2="227.70" y2="537.80" stroke="#222" stroke-width="0.85"/>
<text x="227.70" y="544.30" font-size="6.2" text-anchor="middle" fill="#333" stroke="#333" stroke-width="0.22">5000</text>
<line x1="255.61" y1="534.60" x2="255.61" y2="537.80" stroke="#222" stroke-width="0.85"/>
<text x="255.61" y="544.30" font-size="6.2" text-anchor="middle" fill="#333" stroke="#333" stroke-width="0.22">10000</text>
<line x1="283.51" y1="534.60" x2="283.51" y2="537.80" stroke="#222" stroke-width="0.85"/>
<text x="283.51" y="544.30" font-size="6.2" text-anchor="middle" fill="#333" stroke="#333" stroke-width="0.22">15000</text>
<line x1="311.42" y1="534.60" x2="311.42" y2="537.80" stroke="#222" stroke-width="0.85"/>
<text x="311.42" y="544.30" font-size="6.2" text-anchor="middle" fill="#333" stroke="#333" stroke-width="0.22">20000</text>
<line x1="339.32" y1="534.60" x2="339.32" y2="537.80" stroke="#222" stroke-width="0.85"/>
<text x="339.32" y="544.30" font-size="6.2" text-anchor="middle" fill="#333" stroke="#333" stroke-width="0.22">25000</text>
<text x="272.35" y="554.60" font-size="8.0" text-anchor="middle" fill="#111" textLength="65.50" lengthAdjust="spacingAndGlyphs" stroke="#333" stroke-width="0.22">Rank in ordered dataset</text>
<text transform="translate(177.80,426.70) rotate(-90)" font-size="8.0" fill="#1a1a1a" stroke="#222" stroke-width="0.15" text-anchor="middle" textLength="68.9" lengthAdjust="spacingAndGlyphs" y="2">Running enrichment score</text>
<text transform="translate(177.80,504.70) rotate(-90)" font-size="8.0" fill="#1a1a1a" stroke="#222" stroke-width="0.15" text-anchor="middle" textLength="46.1" lengthAdjust="spacingAndGlyphs" y="2">Ranked list metric</text>
</g>
<text x="5.7" y="14.8" font-size="11.2" font-weight="bold" stroke="#000" stroke-width="0.45">D</text>
<rect x="0.5" y="0.5" width="519" height="561" fill="none" stroke="#000" stroke-width="1"/>
</svg></body></html>
